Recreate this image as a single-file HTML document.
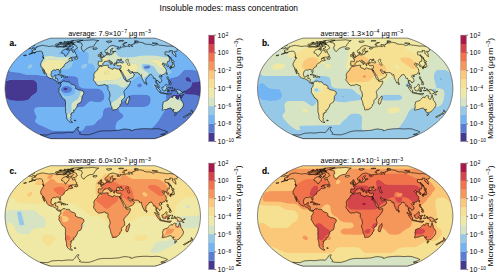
<!DOCTYPE html><html><head><meta charset="utf-8"><title>Insoluble modes: mass concentration</title><style>html,body{margin:0;padding:0;background:#fff;width:500px;height:277px;overflow:hidden}svg{display:block}</style></head><body><svg width="500" height="277" viewBox="0 0 500 277"><defs><path id="land" d="M28.88 54.35L29.94 54.06L31.00 53.76L32.06 53.47L33.41 53.03L34.76 52.60L36.87 51.45L37.52 51.45L38.17 51.45L38.97 51.31L39.77 51.16L40.39 51.26L41.02 51.35L41.64 51.45L42.08 51.88L42.54 52.31L42.62 53.18L42.48 54.35L42.91 54.65L43.35 54.94L43.10 55.83L42.89 56.73L43.30 57.49L43.75 58.24L43.27 59.00L42.80 59.77L42.08 60.99L41.39 62.22L41.02 63.00L40.68 63.77L40.74 65.01L40.79 65.79L40.85 66.57L41.49 66.88L42.14 67.19L42.31 68.13L42.36 68.91L42.42 69.69L43.00 70.94L43.33 71.72L43.68 72.50L44.04 73.27L44.43 74.05L44.75 73.74L44.20 72.50L44.02 71.56L43.87 70.62L43.62 69.69L43.39 68.75L44.05 70.00L44.58 70.94L45.06 72.18L45.72 72.81L46.55 74.05L46.61 74.83L46.67 75.61L47.19 76.24L47.71 76.86L48.45 77.33L49.18 77.80L50.20 78.20L51.23 78.61L52.32 78.42L53.29 79.36L54.33 79.79L54.98 80.04L55.63 80.29L56.36 81.23L56.57 82.16L57.34 82.79L58.40 83.29L59.46 83.72L60.56 83.41L60.90 83.10L60.86 82.79L59.80 82.41L58.70 82.79L57.69 81.54L57.78 80.29L57.89 79.04L57.15 78.42L56.34 78.48L55.53 78.55L55.55 77.70L55.57 76.86L55.90 75.93L56.24 74.99L55.47 75.15L54.70 75.30L54.47 76.24L53.60 76.80L52.91 76.92L52.23 77.05L51.50 76.55L51.23 75.61L50.96 74.68L51.13 73.59L51.33 72.50L51.69 71.25L52.41 70.72L53.14 70.19L54.26 69.88L55.00 70.03L55.75 70.19L56.42 69.56L57.21 69.50L58.01 69.44L58.99 69.69L59.38 70.31L59.35 71.25L59.77 72.50L60.32 72.68L60.64 71.68L60.56 70.84L60.49 70.00L60.54 69.06L61.77 67.82L63.03 66.88L64.08 66.38L64.21 65.32L64.72 64.39L65.84 63.15L66.94 62.84L67.82 62.41L67.91 61.79L68.51 60.99L69.32 60.78L70.12 60.56L70.43 61.11L71.11 60.90L71.79 60.68L72.47 60.44L73.15 60.19L72.38 59.92L71.62 59.64L71.73 58.55L72.23 58.06L71.75 57.94L71.27 57.82L70.57 58.12L69.86 58.42L68.61 59.28L69.59 58.52L70.58 57.76L71.50 57.49L72.43 57.21L73.13 57.21L73.84 57.21L74.54 57.21L75.38 56.82L76.21 56.43L76.87 55.83L76.60 54.65L76.14 54.35L75.69 54.06L75.37 53.18L75.08 52.31L74.89 51.28L73.54 52.31L73.03 52.22L72.52 52.14L72.61 51.51L72.71 50.88L72.22 50.60L71.73 50.32L71.14 50.22L70.56 50.13L69.98 50.03L69.12 51.16L68.94 51.88L68.77 52.60L68.03 53.76L66.81 54.65L66.37 55.54L65.95 56.43L65.40 56.13L64.84 55.83L64.56 55.03L64.31 54.23L63.84 53.85L63.39 53.47L62.80 53.34L62.21 53.20L61.63 53.06L61.56 52.14L61.87 51.51L62.19 50.88L63.42 50.03L64.24 49.62L65.06 49.20L65.64 49.12L66.21 49.03L67.04 48.43L67.87 47.83L68.68 47.83L69.24 47.03L69.81 46.23L70.22 46.76L70.79 46.23L70.20 46.10L69.61 45.97L68.73 46.36L67.84 46.76L67.05 46.76L66.25 46.76L65.46 46.76L64.45 47.03L63.43 47.29L62.74 47.16L62.05 47.03L61.33 46.94L60.61 46.85L59.90 46.76L59.12 46.85L58.33 46.95L57.55 47.04L56.76 47.13L56.26 46.93L55.76 46.73L55.27 46.53L54.79 46.34L54.13 46.22L53.48 46.09L52.84 45.97L52.09 46.06L51.33 46.15L50.58 46.23L49.64 46.36L48.70 46.50L48.13 46.31L47.57 46.13L46.98 46.05L46.40 45.97L45.82 45.89L45.24 45.82L44.64 45.69L44.04 45.56L43.58 45.47L43.12 45.39L42.67 45.30L41.70 45.51L40.72 45.71L39.77 45.97L38.81 46.23L37.84 46.50L36.87 46.76L36.92 47.16L36.97 47.56L35.80 47.83L34.86 48.07L33.92 48.32L34.34 48.62L34.78 48.92L35.40 48.92L36.02 48.92L35.11 49.76L34.24 49.81L33.37 49.87L31.70 50.88L32.11 51.16L32.54 51.45L31.55 52.31L32.25 52.27L32.95 52.23L33.65 52.20L32.41 52.83L31.16 53.47L30.02 53.91ZM77.32 42.03L78.24 41.65L79.14 41.29L80.03 40.94L80.84 40.79L81.63 40.64L82.42 40.49L83.20 40.34L83.83 40.32L84.46 40.30L85.09 40.27L85.72 40.25L86.35 40.22L86.97 40.20L87.59 40.18L88.22 40.15L88.85 40.11L89.48 40.06L90.11 40.02L90.74 39.97L91.37 39.93L91.99 39.88L92.61 39.84L93.23 39.80L93.82 39.90L94.42 40.01L95.02 40.12L95.63 40.23L96.25 40.34L96.89 40.39L97.53 40.44L98.18 40.49L98.83 40.54L98.11 40.87L97.36 41.22L96.60 41.58L96.04 42.49L95.47 43.45L94.96 44.07L94.45 44.69L94.24 45.71L93.55 46.23L92.85 46.76L92.14 46.83L91.43 46.89L90.71 46.96L90.00 47.03L89.07 47.47L88.14 47.92L87.18 48.37L86.40 48.92L85.60 49.48L84.87 50.46L84.13 51.45L83.53 51.31L82.93 51.16L82.48 50.60L82.04 50.03L81.63 48.92L81.26 47.83L81.42 47.03L81.58 46.23L82.73 45.45L82.34 45.07L81.97 44.69L81.83 43.94L81.73 43.21L81.24 43.05L80.75 42.89L80.27 42.73L79.73 42.65L79.20 42.57L78.67 42.49L78.21 42.34L77.76 42.18ZM77.61 47.83L76.72 48.37L75.82 48.92L75.27 49.62L74.71 50.32L74.00 50.03L73.44 49.89L72.88 49.76L72.48 49.34L72.09 48.92L71.35 48.95L70.61 48.98L71.63 48.32L72.63 47.67L73.63 47.03L73.19 46.67L72.76 46.32L72.34 45.97L71.66 45.84L70.97 45.71L70.44 45.52L69.92 45.33L69.40 45.14L68.89 44.94L69.97 44.57L71.04 44.19L71.70 44.16L72.34 44.12L72.99 44.09L73.50 44.39L74.03 44.69L74.60 44.94L75.19 45.20L75.79 45.45L76.40 45.71L76.33 46.50L76.70 46.89L77.08 47.29ZM57.29 45.45L58.33 45.20L59.37 44.94L60.41 44.69L61.14 44.63L61.87 44.57L62.59 44.50L63.32 44.44L63.69 44.82L64.08 45.20L63.34 45.79L62.61 46.39L61.87 46.48L61.13 46.57L60.39 46.65L59.57 46.69L58.74 46.72L57.91 46.76L57.37 46.64L56.84 46.51L56.30 46.39L56.62 45.71ZM69.91 42.73L70.60 42.75L71.29 42.78L71.98 42.80L72.67 42.82L73.37 42.85L74.06 42.87L75.28 42.33L76.49 41.80L77.39 41.58L78.28 41.36L79.08 41.15L79.86 40.94L80.63 40.74L81.39 40.54L82.06 40.34L82.72 40.15L82.14 40.13L81.56 40.10L80.99 40.08L80.42 40.05L79.85 40.02L79.28 40.00L78.71 39.97L78.03 40.04L77.35 40.11L76.66 40.18L75.97 40.25L75.28 40.32L74.58 40.39L73.88 40.46L73.17 40.54L71.48 41.36L71.78 41.69L72.09 42.03L71.00 42.38ZM68.91 43.70L69.64 43.70L70.38 43.70L71.11 43.70L71.85 43.70L72.59 43.70L73.32 43.70L73.39 42.82L72.70 42.80L72.00 42.78L71.31 42.75L70.62 42.73L69.94 42.81L69.26 42.89L68.57 42.97L68.73 43.33ZM55.07 45.05L55.60 45.13L56.14 45.22L56.69 45.30L57.99 44.74L59.29 44.19L58.87 43.99L58.47 43.79L57.79 43.84L57.11 43.89L56.43 43.94L55.74 44.49ZM66.33 49.48L67.11 49.41L67.89 49.34L68.66 49.27L69.43 49.20L68.95 48.65L68.49 48.10L67.70 48.37L66.89 48.65ZM64.32 44.94L64.93 44.98L65.53 45.01L66.13 45.05L67.27 44.04L66.71 44.04L66.16 44.04L65.60 44.04ZM66.61 44.94L67.37 44.94L68.13 44.94L69.41 43.94L68.79 43.94L68.17 43.94L67.55 43.94ZM59.70 43.70L60.41 43.67L61.11 43.65L61.82 43.62L62.52 43.60L63.22 43.57L63.92 43.55L64.97 42.97L64.30 42.93L63.63 42.89L62.96 42.85L62.30 42.81L61.64 42.77L60.98 42.73ZM64.76 43.45L65.40 43.45L66.04 43.45L66.68 43.45L67.32 43.45L67.93 42.90L68.56 42.35L67.90 42.39L67.24 42.42L66.58 42.46L65.91 42.49ZM68.95 42.03L69.68 42.00L70.41 41.97L71.13 41.95L71.86 41.92L72.58 41.89L73.09 41.30L73.58 40.74L73.00 40.74L72.42 40.74L71.84 40.74L71.26 40.74L70.12 41.36ZM57.59 74.80L58.44 74.43L59.28 74.05L60.35 73.99L61.08 74.49L61.82 74.99L62.52 75.40L63.22 75.80L62.33 75.89L61.44 75.99L61.23 75.49L60.34 75.18L59.44 74.87L58.79 74.80L58.13 74.74ZM63.09 76.05L63.87 75.99L64.65 75.93L65.43 76.36L66.21 76.80L65.33 77.05L64.49 77.42L63.74 77.20L62.99 76.99ZM60.91 76.92L61.46 76.99L62.02 77.05L61.83 77.30L61.04 77.17ZM66.85 76.86L67.70 76.92L67.57 77.17L66.82 77.17ZM76.93 56.37L77.31 57.00L77.71 57.64L77.57 58.85L76.95 59.40L76.10 59.15L75.24 58.97L74.38 58.79L75.34 58.21L76.30 57.64L76.61 57.00ZM42.66 56.85L43.27 57.09L43.88 57.33L44.04 58.30L43.35 58.12L43.02 57.73L42.70 57.33ZM60.90 83.10L61.69 82.47L62.28 81.54L63.11 81.23L63.94 80.92L64.17 81.54L65.02 80.79L66.04 81.85L67.12 81.82L68.21 81.79L69.29 81.73L69.78 82.79L70.31 83.22L71.36 84.16L72.16 84.44L72.97 84.72L73.78 85.00L74.58 85.28L75.11 85.91L75.37 86.59L75.64 87.28L75.36 88.40L76.04 88.71L76.72 89.02L77.67 89.49L78.63 89.96L79.58 90.08L80.53 90.21L81.35 90.55L82.16 90.89L82.85 91.30L83.53 91.71L83.82 92.77L83.85 94.01L82.80 95.26L82.03 96.51L81.95 97.76L81.87 99.00L81.73 99.78L81.59 100.56L81.29 101.34L80.99 102.12L79.97 102.75L78.94 103.24L78.19 103.77L77.45 104.30L77.34 105.08L77.24 105.86L76.72 107.11L75.85 108.36L75.28 109.61L74.60 110.11L73.97 110.17L73.35 110.23L73.78 111.16L73.75 112.22L73.03 112.39L72.31 112.55L71.60 112.72L71.73 113.83L71.08 113.90L70.42 113.96L71.18 114.88L71.04 115.65L70.91 116.42L70.23 117.34L71.25 118.25L70.92 119.01L70.61 119.77L70.81 120.85L71.43 121.56L72.63 122.45L71.86 122.51L71.09 122.57L69.89 121.92L68.68 121.26L67.93 120.37L67.20 119.47L66.83 118.56L66.49 117.65L66.51 116.73L66.56 115.81L66.37 114.88L66.19 113.96L65.82 112.72L65.47 111.48L65.54 110.23L65.64 108.98L65.50 107.74L65.39 106.49L65.45 105.24L65.53 103.99L65.46 102.95L65.40 101.91L65.34 100.87L64.79 99.63L63.64 98.85L62.49 98.07L61.69 96.82L61.16 95.88L60.64 94.95L60.19 94.17L59.75 93.39L58.77 92.14L58.94 91.36L59.11 90.58L59.36 89.83L58.81 89.02L59.35 87.78L60.01 87.28L60.37 86.59L60.74 85.91L60.82 85.13L60.90 84.35L60.54 83.72ZM74.16 120.25L74.93 120.25L75.70 120.25L75.94 120.67L75.21 120.73L74.49 120.79ZM93.73 75.30L94.01 74.37L94.30 73.43L95.13 72.18L95.95 71.12L96.76 70.56L97.55 70.00L97.69 68.75L98.40 67.63L99.28 67.19L99.77 66.07L100.76 66.29L101.75 66.51L102.52 66.07L103.28 65.64L104.30 65.54L105.31 65.45L106.07 65.35L106.83 65.24L107.59 65.14L108.36 65.32L108.18 66.10L108.01 66.88L108.44 67.63L109.49 67.94L110.14 68.19L110.80 68.44L111.73 68.97L112.67 69.50L113.13 68.44L114.13 67.88L114.93 68.22L115.73 68.57L116.78 68.85L117.85 69.13L118.62 69.03L119.39 68.94L119.72 69.75L120.04 70.50L120.36 71.25L120.97 72.34L121.57 73.43L122.07 74.37L122.58 75.30L122.98 76.24L123.37 77.17L123.68 77.95L123.99 78.73L125.12 79.98L126.12 80.60L126.81 81.85L127.48 81.63L128.15 81.41L128.90 81.29L129.65 81.16L130.40 81.04L130.33 81.91L130.22 82.66L130.11 83.41L129.59 84.35L129.07 85.28L128.41 86.22L127.74 87.15L127.07 87.93L126.39 88.71L125.30 89.52L124.47 90.58L123.92 91.52L124.04 92.45L124.15 93.39L124.40 94.17L124.65 94.95L124.62 95.88L124.58 96.82L124.54 97.76L123.57 98.54L122.59 99.32L122.01 100.09L121.44 100.87L121.53 101.65L121.62 102.43L121.57 103.37L120.87 103.93L120.18 104.49L120.06 105.33L119.95 106.18L118.93 107.11L118.07 108.05L117.22 108.98L116.55 109.30L115.88 109.61L114.97 109.67L114.07 109.73L113.02 110.11L112.27 109.73L112.19 109.05L112.09 108.36L111.88 107.42L111.66 106.49L110.77 105.24L110.62 103.99L110.47 102.75L110.14 101.81L109.81 100.87L109.45 100.09L109.09 99.32L109.11 98.07L109.58 97.13L110.05 96.20L109.98 95.10L109.91 94.01L109.68 93.08L109.44 92.14L109.28 91.52L108.61 90.74L107.93 89.96L107.88 89.18L107.82 88.40L107.93 87.53L108.04 86.65L107.93 85.91L107.38 85.59L106.71 85.66L106.03 85.72L105.21 84.47L104.54 84.47L103.86 84.47L103.05 84.81L102.23 85.16L101.15 85.28L100.06 85.22L99.39 85.44L98.71 85.66L97.63 84.97L96.55 84.10L95.74 83.41L95.48 82.47L94.68 81.54L93.88 80.73L93.65 79.98L93.42 79.23L93.92 78.42L94.21 77.17L94.08 76.24ZM129.37 95.88L129.61 96.98L129.85 98.07L129.41 99.00L129.10 99.94L128.80 100.87L128.50 101.87L128.19 102.87L127.88 103.87L127.25 104.09L126.63 104.30L125.93 103.06L125.81 101.81L126.47 100.56L126.41 99.78L126.35 99.00L127.47 98.25L128.05 97.54L128.62 96.82ZM98.34 61.61L98.85 61.18L99.83 61.27L100.81 61.36L101.42 61.36L102.04 61.36L102.12 60.56L102.19 59.77L101.72 59.03L101.17 58.82L100.62 58.61L101.35 58.06L102.06 58.12L102.07 57.58L102.87 57.58L103.48 57.21L103.94 56.67L104.64 56.43L104.99 55.54L105.49 55.39L105.99 55.24L106.71 55.00L106.70 54.06L106.44 53.30L107.21 52.83L107.47 53.47L107.61 54.06L107.32 54.53L107.80 54.94L108.70 54.71L109.41 55.00L110.29 54.65L111.18 54.47L111.66 54.71L112.26 54.06L112.15 53.30L112.74 52.77L113.45 53.06L113.48 52.43L113.04 51.91L113.57 51.79L114.09 51.68L114.96 51.68L115.78 51.45L115.07 51.16L114.54 51.19L114.01 51.22L113.27 51.34L112.53 51.45L112.01 50.88L111.83 49.76L112.46 49.20L113.09 48.65L113.23 48.32L112.60 48.24L111.97 48.16L111.44 48.65L110.73 49.48L110.20 50.15L110.23 51.11L111.02 51.51L110.65 52.02L110.10 52.89L109.95 53.65L109.10 54.12L108.55 54.00L108.37 53.47L107.85 52.60L107.59 52.02L107.36 51.85L106.84 52.22L106.31 52.60L105.42 52.54L104.95 51.74L104.91 50.60L105.53 50.03L106.24 49.67L106.95 49.31L107.42 48.76L107.89 48.21L108.40 47.29L109.13 46.76L109.67 46.42L110.21 46.08L110.95 45.89L111.69 45.71L112.25 45.58L112.80 45.45L113.57 45.45L114.22 45.71L114.87 45.97L115.76 46.34L116.37 46.42L116.99 46.50L117.73 46.76L118.48 47.03L119.24 47.29L119.21 47.83L118.48 47.87L117.75 47.90L117.01 47.94L117.00 48.65L117.60 48.92L118.20 49.20L118.53 48.92L119.36 48.92L120.03 48.46L120.69 47.99L120.47 47.37L120.24 46.76L121.14 47.03L121.94 47.03L122.74 47.03L123.48 46.89L124.21 46.76L124.97 46.68L125.72 46.60L126.32 46.23L127.00 46.29L127.69 46.34L128.37 46.39L129.17 46.57L129.97 46.76L129.48 46.10L128.99 45.45L128.25 45.20L128.49 44.82L128.71 44.44L129.40 44.49L130.09 44.54L130.72 45.45L131.34 46.10L131.95 46.76L132.58 46.50L131.77 45.58L130.96 44.69L131.47 44.74L131.98 44.79L132.51 44.74L133.04 44.69L132.89 44.04L133.47 43.93L134.05 43.81L134.62 43.70L134.48 43.35L134.96 43.23L135.43 43.10L135.90 42.97L136.45 42.92L136.99 42.87L137.54 42.82L138.06 42.66L138.57 42.49L138.95 42.33L139.33 42.17L140.16 42.35L141.03 42.48L141.91 42.60L142.79 42.73L143.95 43.21L144.30 43.94L145.13 44.02L145.96 44.09L146.73 44.27L147.50 44.44L148.02 44.36L148.54 44.27L149.06 44.19L150.06 44.39L151.07 44.59L152.20 45.20L153.40 45.56L153.89 45.44L154.39 45.32L154.88 45.20L155.31 44.94L155.73 44.69L156.54 44.73L157.34 44.76L158.15 44.79L159.19 45.00L160.24 45.20L160.98 45.27L161.71 45.34L162.45 45.40L163.22 45.49L163.98 45.57L164.75 45.66L165.63 45.87L166.52 46.08L167.38 46.13L168.24 46.18L168.63 46.05L169.02 45.92L169.75 45.97L170.48 46.02L171.21 46.08L172.04 46.23L172.87 46.39L173.91 46.55L175.48 47.59L177.02 48.65L176.78 48.92L177.67 50.03L177.30 50.23L176.92 50.43L176.71 50.94L176.48 51.45L175.55 51.39L174.61 51.34L174.21 51.45L173.80 51.56L174.55 52.60L175.50 53.18L175.53 53.71L175.84 54.65L175.81 55.54L176.08 56.73L174.65 55.54L173.70 54.65L172.72 53.76L172.15 52.72L172.69 52.60L172.55 51.94L172.38 51.28L172.30 50.48L171.73 50.54L171.15 50.60L170.41 50.51L169.67 50.43L169.95 51.14L170.20 51.85L169.47 51.88L168.74 51.91L167.99 51.89L167.24 51.87L166.49 51.85L165.76 51.88L165.02 51.91L164.94 52.72L165.06 53.68L165.14 54.65L166.31 54.94L167.49 55.24L168.01 55.98L168.50 56.73L169.05 57.49L169.56 58.24L169.45 58.85L169.31 59.46L169.31 60.38L169.29 61.30L168.49 61.39L167.68 61.48L167.20 61.92L167.33 62.84L166.98 63.77L167.75 64.55L168.50 65.32L168.87 66.38L168.38 66.60L167.88 66.82L167.52 66.82L167.19 65.92L166.83 65.01L165.93 64.70L165.44 63.71L164.66 63.90L163.87 64.08L163.66 63.15L163.00 62.84L162.60 63.52L162.05 63.96L162.05 64.39L162.93 65.01L163.39 65.26L163.96 64.83L164.89 65.20L164.19 65.95L163.83 66.57L164.93 67.82L165.90 68.63L166.07 69.13L166.20 70.00L166.58 70.94L166.13 71.56L165.83 72.50L165.03 73.68L164.33 74.18L163.69 74.34L163.06 74.49L162.44 74.74L161.81 74.99L161.51 75.74L161.17 74.99L160.21 74.93L159.54 75.74L159.29 76.55L159.80 77.48L161.05 78.73L161.37 79.51L161.67 80.29L161.60 81.23L160.58 81.91L159.58 83.04L159.40 81.98L158.39 81.54L158.05 80.73L157.10 80.42L156.63 80.04L156.49 80.79L156.34 81.54L156.57 82.47L157.05 83.29L157.48 84.16L158.32 84.60L158.85 85.59L158.94 86.78L159.33 87.53L158.96 87.59L158.35 87.09L157.74 86.59L157.17 85.59L157.12 84.53L156.08 83.29L155.90 82.16L156.01 80.92L155.75 80.14L155.48 79.36L155.07 78.11L154.05 78.55L153.37 78.23L153.33 77.55L153.30 76.86L152.65 76.05L151.91 75.30L151.51 74.37L150.87 74.68L150.09 74.80L149.05 74.99L148.89 75.80L148.16 76.36L147.54 77.20L146.91 78.05L145.92 78.86L145.96 79.57L145.99 80.29L145.84 81.23L145.57 81.98L145.07 82.85L144.72 83.35L144.15 82.85L143.93 82.13L143.69 81.41L142.97 80.29L142.61 79.42L142.24 78.55L141.95 77.55L141.66 76.55L141.53 75.30L141.33 74.49L140.83 74.96L140.32 75.43L139.42 74.49L139.92 74.18L139.07 73.74L138.52 73.56L137.87 72.56L136.83 72.68L136.04 72.68L135.25 72.68L134.44 72.56L133.64 72.43L132.99 72.31L132.47 71.50L131.46 71.81L130.62 71.40L129.78 71.00L129.33 70.31L128.88 69.63L128.05 69.69L127.73 70.00L128.12 70.62L128.80 71.56L129.22 72.06L129.61 72.81L130.03 73.31L130.56 73.31L131.35 73.31L132.07 72.56L132.43 72.00L132.58 72.87L133.23 73.56L134.08 74.18L134.53 74.43L133.94 75.61L133.65 76.55L132.74 77.24L132.40 77.67L131.67 77.95L130.94 78.23L130.17 78.73L129.39 79.23L128.34 79.76L127.29 80.29L126.22 80.48L126.00 79.76L125.78 79.04L125.68 78.11L125.23 77.33L124.78 76.55L124.15 75.77L123.52 74.99L123.18 73.74L122.61 73.12L122.01 72.09L121.40 71.06L120.91 70.87L120.99 70.00L120.72 71.06L119.83 69.81L119.54 68.94L120.52 68.88L120.84 67.94L121.13 66.82L121.12 65.95L120.82 65.57L120.30 65.45L119.33 65.88L118.29 65.64L117.52 65.57L116.73 65.32L116.14 64.52L116.07 63.77L115.87 63.34L116.44 63.28L117.01 63.21L117.20 62.78L117.77 62.78L118.35 62.78L118.85 62.50L119.36 62.22L120.10 62.22L121.11 62.66L121.85 62.90L122.39 62.87L122.93 62.84L123.38 62.53L123.35 61.85L122.42 61.36L121.59 60.81L121.05 60.56L121.26 59.58L121.65 59.09L120.79 59.09L120.23 59.34L119.67 59.58L120.02 60.19L120.50 60.19L120.10 60.68L119.12 60.68L118.55 60.13L118.98 59.77L118.06 59.46L117.58 59.46L117.20 60.19L116.80 60.81L116.56 61.61L116.54 62.22L117.14 62.66L116.57 62.87L115.99 63.09L115.73 62.97L114.74 63.03L114.27 63.28L114.74 64.08L114.18 64.52L114.65 64.70L114.47 65.64L114.22 65.70L113.80 65.45L113.50 64.83L113.40 64.21L112.90 63.71L112.49 62.90L112.39 62.35L111.91 61.92L111.39 61.61L110.63 61.30L110.20 60.81L109.59 60.44L109.37 60.07L108.79 60.13L108.77 60.62L109.45 61.30L109.94 62.04L110.72 62.53L111.37 62.93L112.02 63.34L111.30 63.77L111.14 64.39L110.70 64.58L110.81 63.90L110.58 63.40L109.90 62.97L109.03 62.53L108.30 61.92L107.94 61.42L107.42 60.93L106.97 60.75L106.45 61.11L105.97 61.55L104.98 61.30L104.30 61.55L104.31 62.29L103.77 62.72L103.17 62.84L102.78 63.59L102.62 63.90L102.88 64.27L102.42 64.95L101.71 65.51L101.12 65.51L100.54 65.51L100.02 65.95L99.57 65.45L98.97 65.20L98.26 65.32L98.34 64.52L97.99 64.21L98.39 63.03L98.43 61.98L98.20 61.61ZM31.64 46.55L32.00 46.74L32.37 46.94L32.75 47.13L33.00 47.37L33.26 47.61L33.55 47.99L31.46 48.92L31.10 48.73L30.75 48.54L30.21 48.48L29.67 48.43L28.53 48.65L30.07 47.59ZM122.89 45.20L123.54 45.35L124.19 45.51L124.85 45.66L124.24 45.05L123.63 44.44L123.96 44.03L124.26 43.61L124.54 43.21L125.06 43.07L125.58 42.94L126.09 42.81L126.59 42.67L127.09 42.54L126.63 42.52L126.17 42.49L125.62 42.59L125.07 42.68L124.51 42.78L123.95 42.87L123.61 43.26L123.24 43.65L122.85 44.04L122.76 44.94ZM106.58 41.80L107.20 42.11L107.84 42.41L108.49 42.73L109.17 42.57L109.84 42.41L110.51 42.26L111.01 41.95L111.49 41.65L111.96 41.36L111.34 41.22L110.74 41.08L110.13 40.94L109.60 41.01L109.05 41.08L108.51 41.15L107.84 41.19L107.17 41.23L106.50 41.28ZM135.70 41.58L136.48 41.65L137.27 41.73L138.05 41.80L138.28 41.58L138.49 41.36L137.63 41.15L136.78 40.94L135.95 40.74L135.48 40.80L135.02 40.87L134.55 40.94ZM152.11 43.21L153.21 43.45L154.31 43.70L155.42 43.94L155.98 43.82L156.52 43.70L157.06 43.57L157.60 43.45L156.72 43.29L155.85 43.13L154.98 42.97L154.21 42.94L153.44 42.90L152.67 42.87L152.39 43.04ZM118.63 41.15L119.24 41.13L119.86 41.11L120.47 41.09L121.08 41.08L121.69 41.06L122.30 41.04L122.91 41.02L123.30 40.88L123.67 40.74L122.96 40.67L122.25 40.62L121.54 40.56L120.84 40.50L120.32 40.58L119.80 40.65L119.28 40.74L118.75 40.82ZM92.93 48.37L93.84 47.88L94.64 47.94L95.44 47.99L96.07 47.91L96.69 47.83L97.03 48.37L97.17 48.65L96.54 49.03L95.78 49.28L95.02 49.53L94.20 49.37L93.38 49.31L93.65 48.92L92.87 48.70ZM100.09 57.33L100.73 57.15L101.37 56.97L102.07 56.91L102.78 56.85L103.43 56.61L103.56 55.72L102.91 55.30L102.68 54.82L102.10 54.23L101.88 53.76L101.43 53.59L101.89 52.77L101.23 52.77L101.46 52.25L100.58 52.25L100.25 52.89L100.22 53.59L100.52 53.94L100.60 54.47L101.28 54.41L101.31 54.82L101.40 55.36L100.66 55.36L100.78 56.01L100.35 56.31L101.28 56.49L100.67 56.73ZM99.99 56.01L99.98 55.24L100.23 54.65L99.83 54.23L99.15 54.23L98.86 54.65L98.21 54.82L98.27 55.36L98.00 56.07L98.35 56.43L99.05 56.25ZM170.04 67.19L170.38 66.73L170.71 66.26L171.33 66.23L171.95 66.20L172.14 65.20L172.81 64.83L172.90 63.59L172.39 62.72L173.09 62.66L173.95 63.77L173.94 64.58L174.39 65.64L174.70 66.38L174.35 66.63L173.93 66.82L173.01 66.82L173.15 67.50L172.20 67.32L171.72 66.82L170.78 67.01ZM169.58 67.44L170.12 67.26L170.81 67.82L170.92 68.88L170.42 68.94L169.80 68.00ZM171.07 67.69L171.40 67.26L172.04 67.32L171.65 67.01L171.09 67.13ZM172.27 62.53L172.76 62.35L173.24 62.29L173.72 62.22L174.00 61.82L174.28 61.42L173.50 60.99L172.58 60.53L171.66 60.07L172.03 60.99L171.82 61.42L171.89 61.92ZM171.45 59.77L171.96 59.46L171.30 58.70L170.62 57.94L171.33 57.94L169.67 56.73L169.15 56.04L168.60 55.36L167.84 54.77L168.33 55.45L168.81 56.13L169.59 57.33L170.59 58.55ZM166.48 74.05L166.59 73.40L166.68 72.74L167.22 72.81L167.16 73.74L166.97 74.68ZM160.76 76.42L161.69 75.86L162.01 76.18L161.61 77.05L160.89 76.86ZM145.97 83.41L146.12 82.29L146.71 83.10L147.07 83.85L146.83 84.53L146.23 84.66L145.99 84.03ZM166.93 76.86L167.52 76.86L168.10 76.86L168.42 77.80L168.14 78.73L168.69 79.54L169.59 80.29L169.34 80.48L168.18 79.79L167.71 79.48L167.18 78.42L167.06 77.64ZM168.85 84.03L169.87 83.10L170.91 82.60L171.10 83.32L171.29 84.03L170.79 84.84L169.96 84.53ZM168.92 81.54L169.39 80.92L170.24 81.23L170.60 82.16L169.81 82.47L169.27 82.47ZM154.43 84.91L155.03 85.03L155.63 85.16L156.42 86.09L157.21 87.03L158.09 88.03L158.96 89.02L159.62 89.65L160.29 90.27L160.20 91.14L160.11 92.02L159.41 92.08L158.84 91.49L158.26 90.89L157.58 89.96L157.06 89.18L156.52 88.40L156.24 87.28L155.12 86.22L154.78 85.56ZM159.76 92.64L160.22 92.14L161.29 92.33L161.96 92.52L162.62 92.70L163.71 92.70L164.76 93.27L164.72 93.83L163.78 93.67L162.84 93.51L162.04 93.39L161.24 93.27L160.44 93.02ZM161.94 87.46L162.26 87.15L163.02 87.46L164.08 86.47L164.74 85.81L165.39 85.16L166.14 84.03L166.77 84.60L167.39 85.16L166.77 85.72L166.64 86.53L167.37 87.78L166.57 88.40L166.01 89.34L165.97 90.58L164.88 90.89L164.15 90.74L163.42 90.58L162.57 90.21L162.48 89.34L161.95 88.40ZM167.55 91.83L168.09 91.83L168.21 91.05L168.32 90.27L168.66 91.33L169.47 91.21L168.97 90.27L168.45 89.34L169.55 88.90L170.36 88.09L170.73 87.46L170.36 87.78L169.41 87.71L168.46 87.65L167.92 88.09L167.75 89.02L167.24 90.15L167.40 90.99ZM173.88 89.15L174.71 88.65L175.37 89.55L176.01 90.46L176.85 89.93L177.68 89.40L178.48 89.71L179.29 90.02L180.35 90.61L181.40 91.21L181.87 92.45L182.85 92.33L182.36 93.08L183.36 94.01L184.07 94.95L183.28 94.82L182.49 94.64L181.77 93.70L180.72 93.27L180.28 94.01L179.65 94.08L179.02 94.14L178.27 93.51L177.45 93.58L177.78 92.77L177.32 91.52L176.25 91.21L175.58 91.05L174.91 90.89L174.40 90.15L175.22 89.77L174.42 89.52ZM165.01 93.51L166.09 93.55L167.17 93.58L168.25 93.55L169.34 93.51L170.42 93.51L171.50 93.51L170.33 94.64L169.50 94.82L168.70 94.66L167.91 94.49L167.11 94.33L166.31 94.17L165.51 94.01ZM171.98 87.28L172.52 87.46L172.70 88.40L172.26 88.90L171.99 88.09ZM171.14 90.27L172.22 90.40L172.98 90.49L173.73 90.58L173.10 90.68L172.48 90.77L171.80 90.77L171.12 90.77ZM183.27 91.83L184.24 91.43L185.21 91.02L184.89 91.83L184.20 92.05L183.51 92.27ZM163.09 102.12L163.48 102.00L164.21 101.62L164.94 101.25L165.59 101.06L166.23 100.87L167.35 100.56L168.21 99.63L168.98 98.88L169.65 98.07L170.59 97.13L171.39 97.13L172.38 97.76L172.82 96.51L173.69 96.01L174.28 95.57L174.80 95.76L175.47 95.82L176.13 95.88L176.54 96.07L176.01 96.82L175.60 97.76L176.31 98.38L176.84 98.82L177.38 99.25L178.18 99.25L178.51 98.50L178.83 97.76L178.98 96.98L179.12 96.20L179.74 95.07L180.14 96.20L180.13 97.38L180.87 97.76L180.77 98.88L180.85 99.56L180.92 100.25L181.49 100.72L182.06 101.19L182.68 102.43L183.11 103.37L183.51 104.30L183.34 105.24L183.14 106.18L182.65 107.11L182.12 108.05L181.36 108.76L180.58 109.48L179.67 110.64L178.73 111.79L178.10 111.91L177.48 112.04L176.34 112.72L175.83 112.28L175.00 112.59L174.38 112.35L173.76 112.10L173.57 111.48L173.23 110.60L173.80 109.92L173.85 108.98L173.21 110.11L172.33 110.11L172.11 109.92L171.95 108.86L171.39 108.45L170.82 108.05L169.93 108.20L169.04 108.36L168.18 108.58L167.32 108.80L166.54 109.48L165.50 109.51L164.46 109.54L163.75 109.92L163.04 110.29L162.42 110.04L161.80 109.79L162.34 109.30L162.73 108.05L162.75 106.80L162.65 105.86L162.52 104.93L162.96 103.68L163.03 102.90ZM174.91 113.77L175.77 113.83L176.63 113.90L176.14 114.55L175.63 115.19L174.65 115.56L174.63 114.70ZM191.38 109.86L191.87 110.42L191.96 111.60L192.52 111.76L193.08 111.91L192.14 112.84L191.51 113.03L189.90 114.27L189.54 114.14L190.34 113.34L190.27 112.72L191.19 111.79L191.27 111.01L191.32 110.23ZM188.96 113.65L189.21 114.39L187.70 115.50L186.37 116.12L185.38 116.97L184.21 117.40L183.75 117.22L183.30 117.03L185.15 115.81L186.05 115.44L186.95 115.07L188.16 114.27ZM40.00 134.77L40.75 134.79L41.50 134.82L42.24 134.84L42.99 134.86L43.73 134.88L44.48 134.91L45.22 134.93L45.96 134.95L46.70 134.97L47.44 135.00L47.86 134.86L48.28 134.72L48.72 134.59L49.16 134.45L49.61 134.31L49.98 134.12L50.37 133.93L50.77 133.74L51.18 133.54L51.61 133.35L52.26 133.30L52.92 133.25L53.59 133.20L54.25 133.15L54.92 133.10L55.59 133.05L56.26 133.01L56.93 132.96L57.61 132.91L58.29 132.86L59.09 132.91L59.89 132.96L60.69 133.01L61.48 133.05L62.28 133.10L62.90 133.01L63.53 132.91L64.16 132.81L64.80 132.71L65.45 132.61L66.14 132.56L66.84 132.51L67.54 132.46L68.25 132.41L68.95 132.36L69.75 132.41L70.54 132.46L71.33 132.51L72.12 132.56L72.91 132.61L73.21 132.19L73.53 131.77L73.86 131.35L74.28 131.00L74.70 130.65L75.14 130.30L75.43 129.77L75.73 129.24L76.04 128.70L76.38 128.15L76.79 127.74L77.22 127.32L78.03 127.27L78.85 127.21L78.73 127.88L78.30 128.29L77.88 128.70L78.02 129.77L78.20 130.83L79.55 131.86L79.93 132.48L80.32 133.10L79.83 133.47L79.37 133.83L80.15 134.07L80.92 134.31L81.68 134.54L82.42 134.59L83.15 134.63L83.88 134.68L84.61 134.72L85.34 134.77L86.04 134.77L86.73 134.77L87.43 134.77L88.13 134.77L88.83 134.77L89.33 134.62L89.85 134.46L90.37 134.31L90.90 134.15L91.43 133.99L91.97 133.83L92.52 133.67L93.08 133.51L93.64 133.35L94.19 133.10L94.74 132.86L95.31 132.61L96.01 132.36L96.72 132.11L97.45 131.86L98.18 131.60L98.84 131.47L99.50 131.35L100.17 131.22L100.84 131.09L101.48 131.00L102.13 130.91L102.78 130.83L103.56 130.83L104.34 130.83L105.12 130.83L105.90 130.83L106.68 130.83L107.46 130.83L108.24 130.83L109.02 130.83L109.80 130.83L110.58 130.83L111.37 130.78L112.16 130.72L112.95 130.67L113.75 130.62L114.55 130.57L115.35 130.51L116.15 130.46L116.95 130.41L117.76 130.36L118.56 130.30L119.43 130.09L120.30 129.88L121.18 129.67L122.07 129.45L122.96 129.24L123.67 129.15L124.38 129.06L125.10 128.97L125.73 129.06L126.37 129.15L127.00 129.24L127.75 129.35L128.50 129.45L129.24 129.56L129.98 129.67L130.72 129.77L130.87 130.83L131.54 130.70L132.21 130.57L133.10 130.22L133.99 129.86L134.89 129.51L135.77 129.40L136.65 129.29L137.53 129.19L138.42 129.08L139.31 128.97L140.16 128.92L141.01 128.86L141.87 128.81L142.73 128.75L143.58 128.70L144.40 128.70L145.22 128.70L146.03 128.70L146.85 128.70L147.67 128.70L148.43 128.75L149.20 128.81L149.96 128.86L150.72 128.92L151.48 128.97L152.35 128.92L153.22 128.86L154.09 128.81L154.96 128.75L155.83 128.70L156.59 128.75L157.34 128.81L158.10 128.86L158.85 128.92L159.60 128.97L160.16 129.19L160.72 129.40L161.26 129.61L161.80 129.83L162.32 130.04L162.91 130.20L163.49 130.36L164.07 130.51L164.64 130.67L165.20 130.83L165.60 131.02L165.99 131.22L166.38 131.41L166.75 131.60L167.13 131.73L167.49 131.86L166.24 132.61L164.91 133.35L163.54 133.75L162.16 134.15L160.79 134.54L161.22 134.62L161.64 134.69L162.06 134.77L162.76 134.77L163.45 134.77L164.15 134.77L164.85 134.77L165.55 134.77L163.49 135.65L161.49 136.46L159.60 137.18L157.83 137.79L156.21 138.31L154.78 138.70L154.21 138.70L153.63 138.70L153.05 138.70L152.47 138.70L151.89 138.70L151.32 138.70L150.74 138.70L150.16 138.70L149.58 138.70L149.01 138.70L148.43 138.70L147.85 138.70L147.27 138.70L146.69 138.70L146.12 138.70L145.54 138.70L144.96 138.70L144.38 138.70L143.80 138.70L143.23 138.70L142.65 138.70L142.07 138.70L141.49 138.70L140.92 138.70L140.34 138.70L139.76 138.70L139.18 138.70L138.60 138.70L138.03 138.70L137.45 138.70L136.87 138.70L136.29 138.70L135.71 138.70L135.14 138.70L134.56 138.70L133.98 138.70L133.40 138.70L132.82 138.70L132.25 138.70L131.67 138.70L131.09 138.70L130.51 138.70L129.94 138.70L129.36 138.70L128.78 138.70L128.20 138.70L127.62 138.70L127.05 138.70L126.47 138.70L125.89 138.70L125.31 138.70L124.73 138.70L124.16 138.70L123.58 138.70L123.00 138.70L122.42 138.70L121.85 138.70L121.27 138.70L120.69 138.70L120.11 138.70L119.53 138.70L118.96 138.70L118.38 138.70L117.80 138.70L117.22 138.70L116.64 138.70L116.07 138.70L115.49 138.70L114.91 138.70L114.33 138.70L113.75 138.70L113.18 138.70L112.60 138.70L112.02 138.70L111.44 138.70L110.87 138.70L110.29 138.70L109.71 138.70L109.13 138.70L108.55 138.70L107.98 138.70L107.40 138.70L106.82 138.70L106.24 138.70L105.66 138.70L105.09 138.70L104.51 138.70L103.93 138.70L103.35 138.70L102.78 138.70L102.20 138.70L101.62 138.70L101.04 138.70L100.46 138.70L99.89 138.70L99.31 138.70L98.73 138.70L98.15 138.70L97.57 138.70L97.00 138.70L96.42 138.70L95.84 138.70L95.26 138.70L94.68 138.70L94.11 138.70L93.53 138.70L92.95 138.70L92.37 138.70L91.80 138.70L91.22 138.70L90.64 138.70L90.06 138.70L89.48 138.70L88.91 138.70L88.33 138.70L87.75 138.70L87.17 138.70L86.59 138.70L86.02 138.70L85.44 138.70L84.86 138.70L84.28 138.70L83.70 138.70L83.13 138.70L82.55 138.70L81.97 138.70L81.39 138.70L80.82 138.70L80.24 138.70L79.66 138.70L79.08 138.70L78.50 138.70L77.93 138.70L77.35 138.70L76.77 138.70L76.19 138.70L75.61 138.70L75.04 138.70L74.46 138.70L73.88 138.70L73.30 138.70L72.73 138.70L72.15 138.70L71.57 138.70L70.99 138.70L70.41 138.70L69.84 138.70L69.26 138.70L68.68 138.70L68.10 138.70L67.52 138.70L66.95 138.70L66.37 138.70L65.79 138.70L65.21 138.70L64.63 138.70L64.06 138.70L63.48 138.70L62.90 138.70L62.32 138.70L61.75 138.70L61.17 138.70L60.59 138.70L60.01 138.70L59.43 138.70L58.86 138.70L58.28 138.70L57.70 138.70L57.12 138.70L56.54 138.70L55.97 138.70L55.39 138.70L54.81 138.70L54.23 138.70L53.66 138.70L53.08 138.70L52.50 138.70L51.92 138.70L51.34 138.70L50.77 138.70L49.34 138.31L47.72 137.79L45.95 137.18L44.06 136.46L42.06 135.65ZM63.21 46.60L63.94 46.68L64.66 46.76L65.43 46.08L64.98 46.02L64.54 45.97ZM58.85 42.97L59.68 42.89L60.51 42.81L61.33 42.73L61.64 42.26L60.87 42.31L60.09 42.35ZM72.33 44.44L72.93 44.47L73.54 44.51L74.14 44.54L74.15 44.04L73.59 44.04L73.03 44.04ZM67.35 43.60L67.90 43.60L68.45 43.60L68.85 43.21L68.31 43.21L67.77 43.21ZM66.51 42.03L67.17 42.06L67.83 42.09L68.49 42.12L69.16 41.58L68.63 41.55L68.09 41.52L67.56 41.49ZM63.72 42.03L64.30 42.03L64.88 42.03L65.46 42.03L65.73 41.58L64.95 41.65L64.17 41.71ZM67.55 50.20L68.50 50.03L68.25 49.76L67.55 49.87ZM64.93 45.97L65.60 46.10L66.28 46.23L67.31 45.45L66.84 45.33L66.38 45.20ZM134.42 42.26L135.17 42.31L135.93 42.35L135.90 42.03L135.15 41.98L134.41 41.94ZM33.39 45.45L33.99 45.56L34.97 45.20L34.39 45.20L33.82 45.20ZM24.14 55.83L25.37 55.54L26.59 55.24L25.98 54.94L24.76 55.24L23.52 55.54ZM34.11 53.01L35.12 52.89L35.47 52.43L34.88 52.48Z"/><path id="ol" d="M154.78 38.10L156.60 38.61L158.69 39.30L161.01 40.15L163.49 41.15L166.06 42.26L168.56 43.45L170.86 44.69L173.00 45.97L175.04 47.29L177.02 48.65L178.94 50.03L180.82 51.45L182.63 52.89L184.38 54.35L186.04 55.83L187.59 57.33L189.02 58.85L190.36 60.38L191.64 61.92L192.84 63.46L193.92 65.01L194.90 66.57L195.79 68.13L196.59 69.69L197.28 71.25L197.86 72.81L198.34 74.37L198.76 75.93L199.16 77.48L199.52 79.04L199.82 80.60L200.05 82.16L200.23 83.72L200.36 85.28L200.45 86.84L200.50 88.40L200.45 89.96L200.36 91.52L200.23 93.08L200.05 94.64L199.82 96.20L199.52 97.76L199.16 99.32L198.76 100.87L198.34 102.43L197.86 103.99L197.28 105.55L196.59 107.11L195.79 108.67L194.90 110.23L193.92 111.79L192.84 113.34L191.64 114.88L190.36 116.42L189.02 117.95L187.59 119.47L186.04 120.97L184.38 122.45L182.63 123.91L180.82 125.35L178.94 126.77L177.02 128.15L175.04 129.51L173.00 130.83L170.86 132.11L168.56 133.35L166.06 134.54L163.49 135.65L161.01 136.65L158.69 137.50L156.60 138.19L154.78 138.70L153.34 138.70L151.89 138.70L150.45 138.70L149.01 138.70L147.56 138.70L146.12 138.70L144.67 138.70L143.23 138.70L141.78 138.70L140.34 138.70L138.89 138.70L137.45 138.70L136.00 138.70L134.56 138.70L133.11 138.70L131.67 138.70L130.22 138.70L128.78 138.70L127.33 138.70L125.89 138.70L124.45 138.70L123.00 138.70L121.56 138.70L120.11 138.70L118.67 138.70L117.22 138.70L115.78 138.70L114.33 138.70L112.89 138.70L111.44 138.70L110.00 138.70L108.55 138.70L107.11 138.70L105.66 138.70L104.22 138.70L102.78 138.70L101.33 138.70L99.89 138.70L98.44 138.70L97.00 138.70L95.55 138.70L94.11 138.70L92.66 138.70L91.22 138.70L89.77 138.70L88.33 138.70L86.88 138.70L85.44 138.70L83.99 138.70L82.55 138.70L81.10 138.70L79.66 138.70L78.22 138.70L76.77 138.70L75.33 138.70L73.88 138.70L72.44 138.70L70.99 138.70L69.55 138.70L68.10 138.70L66.66 138.70L65.21 138.70L63.77 138.70L62.32 138.70L60.88 138.70L59.43 138.70L57.99 138.70L56.54 138.70L55.10 138.70L53.66 138.70L52.21 138.70L50.77 138.70L48.95 138.19L46.86 137.50L44.54 136.65L42.06 135.65L39.49 134.54L36.99 133.35L34.69 132.11L32.55 130.83L30.51 129.51L28.53 128.15L26.61 126.77L24.73 125.35L22.92 123.91L21.17 122.45L19.51 120.97L17.96 119.47L16.53 117.95L15.19 116.42L13.91 114.88L12.71 113.34L11.63 111.79L10.65 110.23L9.76 108.67L8.96 107.11L8.27 105.55L7.69 103.99L7.21 102.43L6.79 100.87L6.39 99.32L6.03 97.76L5.73 96.20L5.50 94.64L5.32 93.08L5.19 91.52L5.10 89.96L5.05 88.40L5.10 86.84L5.19 85.28L5.32 83.72L5.50 82.16L5.73 80.60L6.03 79.04L6.39 77.48L6.79 75.93L7.21 74.37L7.69 72.81L8.27 71.25L8.96 69.69L9.76 68.13L10.65 66.57L11.63 65.01L12.71 63.46L13.91 61.92L15.19 60.38L16.53 58.85L17.96 57.33L19.51 55.83L21.17 54.35L22.92 52.89L24.73 51.45L26.61 50.03L28.53 48.65L30.51 47.29L32.55 45.97L34.69 44.69L36.99 43.45L39.49 42.26L42.06 41.15L44.54 40.15L46.86 39.30L48.95 38.61L50.77 38.10L52.21 38.10L53.66 38.10L55.10 38.10L56.54 38.10L57.99 38.10L59.43 38.10L60.88 38.10L62.32 38.10L63.77 38.10L65.21 38.10L66.66 38.10L68.10 38.10L69.55 38.10L70.99 38.10L72.44 38.10L73.88 38.10L75.33 38.10L76.77 38.10L78.22 38.10L79.66 38.10L81.10 38.10L82.55 38.10L83.99 38.10L85.44 38.10L86.88 38.10L88.33 38.10L89.77 38.10L91.22 38.10L92.66 38.10L94.11 38.10L95.55 38.10L97.00 38.10L98.44 38.10L99.89 38.10L101.33 38.10L102.78 38.10L104.22 38.10L105.66 38.10L107.11 38.10L108.55 38.10L110.00 38.10L111.44 38.10L112.89 38.10L114.33 38.10L115.78 38.10L117.22 38.10L118.67 38.10L120.11 38.10L121.56 38.10L123.00 38.10L124.45 38.10L125.89 38.10L127.33 38.10L128.78 38.10L130.22 38.10L131.67 38.10L133.11 38.10L134.56 38.10L136.00 38.10L137.45 38.10L138.89 38.10L140.34 38.10L141.78 38.10L143.23 38.10L144.67 38.10L146.12 38.10L147.56 38.10L149.01 38.10L150.45 38.10L151.89 38.10L153.34 38.10Z"/><clipPath id="cl"><use href="#land"/></clipPath><clipPath id="co"><use href="#ol"/></clipPath><path id="casp" d="M125.64 60.38L126.40 59.46L126.97 59.31L127.53 59.15L128.33 59.46L128.56 60.38L127.66 60.68L128.13 61.61L128.94 62.35L129.29 63.46L129.80 64.70L130.14 65.14L129.41 65.29L128.68 65.45L127.84 65.01L127.47 64.39L127.50 63.28L126.54 62.22L126.16 61.61Z"/></defs><rect width="500" height="277" fill="#fff"/><g transform="translate(0,0)"><g clip-path="url(#co)"><use href="#ol" fill="#73b4f5"/><path d="M17.5 100.9L24.9 100.8L27.5 100.3L28.9 99.4L31.8 95.9L36.4 92.8L37.5 90.3L37.5 85.9L36.8 82.8L35.4 80.9L34.3 80.3L32.2 79.9L13.5 79.6L9.6 79.9L5.7 81.1L5.1 88.4L6.0 97.8L8.4 99.6L10.4 100.5L17.5 100.9ZM178.6 100.3L180.8 99.6L182.2 98.4L183.2 96.5L183.3 95.0L174.1 94.8L172.4 95.3L171.2 96.5L171.1 97.8L172.0 98.6L178.6 100.3ZM97.9 97.2L98.1 97.1L97.9 96.5L97.8 97.1L97.9 97.2ZM199.1 97.1L199.5 97.8L200.4 90.3L199.9 81.1L196.2 82.0L191.9 82.2L191.2 85.9L190.2 87.2L185.7 90.3L184.6 92.1L184.3 94.0L185.5 94.5L195.7 94.9L197.7 95.7L199.1 97.1ZM187.6 81.7L191.4 82.1L191.6 81.5L190.2 78.4L188.6 77.2L187.3 76.9L185.8 77.6L185.1 79.0L185.8 80.6L187.6 81.7Z" fill="#463791" fill-rule="evenodd"/><path d="M51.1 138.7L154.8 138.7L160.5 136.8L166.6 134.3L175.4 129.2L185.7 121.3L192.4 114.0L196.6 107.1L198.1 103.4L199.5 97.8L198.6 96.5L197.2 95.4L195.2 94.8L185.5 94.5L184.3 94.0L184.6 92.1L185.7 90.3L190.2 87.2L191.2 85.9L191.9 82.2L196.2 82.0L199.9 81.1L198.4 74.7L197.1 70.8L191.9 69.8L184.7 70.0L183.0 71.0L179.9 74.7L178.3 75.9L176.0 76.9L170.9 78.0L168.4 79.6L167.7 81.5L167.8 89.6L165.9 95.9L165.7 98.4L166.8 100.9L170.9 103.4L171.5 104.0L171.6 105.2L170.2 106.5L166.3 108.7L164.7 110.2L158.5 120.7L152.5 127.6L150.2 129.2L147.7 130.4L141.8 130.8L118.0 130.7L116.6 130.1L115.9 129.2L115.6 126.5L116.3 123.6L117.2 121.9L118.6 120.5L122.3 118.3L123.5 116.4L123.0 114.6L119.9 112.1L119.1 110.9L118.6 108.4L118.9 107.1L143.4 107.1L146.8 106.5L148.5 105.5L149.8 104.0L150.5 102.1L150.8 99.0L150.6 97.8L149.7 96.2L148.3 95.3L146.5 94.8L134.7 94.6L130.9 95.0L129.0 95.9L125.3 99.4L120.3 102.6L119.4 104.0L118.4 107.1L108.5 107.2L105.4 107.9L104.1 109.0L103.3 110.2L102.5 115.8L101.0 118.3L97.4 120.7L94.8 124.0L93.6 124.8L91.9 125.3L87.2 125.5L85.6 126.1L84.7 127.0L83.5 129.6L82.3 130.5L79.8 130.8L54.8 130.8L52.5 130.5L49.9 129.6L43.9 126.5L38.3 124.2L35.4 121.9L35.1 120.3L36.5 118.4L36.7 117.3L34.3 110.9L34.4 109.0L35.3 107.9L36.7 107.4L39.2 107.1L82.9 106.9L85.2 105.9L88.0 102.7L90.0 101.6L91.6 101.4L98.5 102.5L100.6 102.1L102.2 101.3L103.8 99.6L104.5 97.1L103.9 94.0L102.8 91.5L101.0 89.6L98.4 88.6L84.3 88.4L81.1 87.6L79.7 86.5L78.9 85.3L78.3 80.3L77.8 78.4L76.6 77.1L74.5 76.2L69.2 76.0L65.9 76.5L63.7 77.8L60.3 80.9L58.0 81.5L55.9 80.6L53.0 77.4L50.5 76.2L43.1 75.8L35.3 74.8L26.7 74.7L18.9 72.5L12.2 72.1L8.5 70.8L7.1 74.7L5.7 81.1L9.1 80.0L11.8 79.6L33.3 80.0L34.8 80.6L36.3 82.0L37.2 84.0L37.6 86.5L37.5 90.3L36.4 92.8L31.8 95.9L28.9 99.4L27.0 100.5L23.9 100.9L11.6 100.7L8.6 99.8L6.0 97.8L8.1 105.2L11.0 110.9L14.2 115.2L18.6 120.1L23.3 124.2L29.3 128.7L34.2 131.9L39.0 134.3L46.0 137.2L51.1 138.7ZM178.4 100.3L172.0 98.6L171.1 97.8L171.2 96.5L172.4 95.3L174.1 94.8L183.3 95.0L183.2 96.5L182.2 98.4L180.3 99.9L178.4 100.3ZM97.8 97.1L97.9 96.5L97.9 96.5L98.1 97.1L97.8 97.1ZM187.3 81.5L185.5 80.3L185.1 79.0L186.3 77.3L187.8 76.9L189.0 77.4L190.2 78.4L191.6 81.5L191.4 82.1L190.9 82.1L187.3 81.5ZM138.1 87.3L139.7 87.6L141.3 86.9L142.1 85.3L141.6 84.0L140.7 83.4L139.6 83.2L137.8 84.0L137.0 85.9L138.1 87.3Z" fill="#587dd2" fill-rule="evenodd"/><path d="M51.9 130.4L56.0 130.8L79.8 130.8L82.3 130.5L83.5 129.6L84.7 127.0L85.6 126.1L87.2 125.5L91.9 125.3L93.6 124.8L94.8 124.0L97.4 120.7L101.0 118.3L102.5 115.8L103.3 110.2L104.8 108.3L108.0 107.2L118.4 107.1L119.1 104.6L120.2 102.7L125.3 99.4L129.2 95.7L132.0 94.8L138.4 94.6L146.0 94.7L147.6 95.0L149.3 95.9L150.3 97.1L150.8 99.0L150.5 102.1L149.8 104.0L147.8 106.0L144.5 107.0L118.9 107.1L118.6 108.4L119.1 110.9L119.9 112.1L123.0 114.6L123.5 116.4L122.3 118.3L118.4 120.7L116.8 122.4L115.7 125.9L115.7 128.7L116.9 130.3L119.2 130.8L144.5 130.8L148.3 130.1L151.9 128.1L155.8 124.2L159.3 119.5L165.3 109.6L167.0 108.2L170.2 106.5L171.6 105.2L171.5 104.0L170.9 103.4L166.8 100.9L165.7 98.4L165.9 95.9L167.8 89.6L167.7 81.5L168.4 79.7L170.9 78.0L176.0 76.9L178.3 75.9L179.9 74.7L183.0 71.0L184.7 70.0L191.9 69.8L197.1 70.8L193.3 64.1L187.6 57.3L180.8 51.4L173.0 46.0L170.8 46.1L170.1 46.6L171.5 50.3L170.6 52.6L170.9 55.9L168.9 58.5L167.9 62.2L165.9 64.1L165.2 65.3L165.4 66.6L166.3 67.8L170.3 70.3L171.6 71.6L171.7 72.2L171.0 73.2L169.2 74.1L161.4 75.9L139.1 76.1L137.0 76.9L133.0 80.4L130.8 81.3L128.7 80.6L125.3 77.4L122.5 76.2L100.6 75.9L98.5 75.6L96.9 74.8L95.4 72.8L94.7 67.2L93.9 65.3L92.2 64.1L88.3 63.4L87.9 62.8L88.8 55.5L88.1 52.9L86.2 51.7L81.1 51.4L79.6 51.0L78.4 49.8L77.4 47.0L76.5 46.3L73.9 46.0L32.5 46.0L24.7 51.4L18.0 57.3L12.3 64.1L8.5 70.8L12.2 72.1L18.9 72.5L26.7 74.7L35.3 74.8L43.1 75.8L50.5 76.2L53.0 77.4L55.9 80.6L58.0 81.5L60.3 80.9L63.7 77.8L65.9 76.5L69.2 76.0L74.5 76.2L76.6 77.1L77.8 78.4L78.3 80.3L78.7 84.7L79.4 86.2L80.5 87.3L83.8 88.3L96.8 88.4L99.5 88.9L102.3 90.9L103.5 92.8L104.3 95.3L104.5 97.1L104.1 99.0L103.3 100.3L101.7 101.6L98.0 102.5L91.6 101.4L90.0 101.6L88.0 102.7L85.2 105.9L82.9 106.9L39.2 107.1L36.7 107.4L35.3 107.9L34.4 109.0L34.3 110.9L36.7 117.3L36.5 118.4L35.1 120.3L35.4 121.9L38.3 124.2L51.9 130.4ZM137.9 87.2L137.0 85.9L137.3 84.7L138.0 83.9L139.0 83.3L140.1 83.2L141.6 84.0L142.1 85.3L141.3 86.9L139.7 87.6L137.9 87.2ZM154.1 87.2L153.4 86.5L152.9 85.3L153.7 83.6L155.8 82.9L157.9 84.0L158.4 85.3L157.6 86.9L156.0 87.6L154.1 87.2ZM59.2 69.1L58.3 68.3L57.8 67.2L58.2 65.9L59.4 64.7L63.9 62.2L69.5 58.2L71.4 58.1L72.6 58.9L73.1 61.0L72.7 63.5L71.9 65.9L70.2 68.1L68.5 69.1L66.3 69.6L61.6 69.6L59.2 69.1ZM28.0 68.4L27.4 67.2L28.4 65.3L30.8 64.2L32.3 64.7L32.6 65.9L31.4 67.8L29.7 68.7L28.0 68.4ZM81.8 68.4L81.2 67.8L81.0 66.6L82.0 64.9L84.2 63.8L87.2 63.7L87.0 65.9L85.7 67.9L83.6 68.9L81.8 68.4Z" fill="#73b4f5" fill-rule="evenodd"/><path d="M154.3 87.3L156.5 87.5L158.0 86.5L158.4 85.3L157.5 83.6L155.2 82.9L153.3 84.0L153.0 85.9L154.3 87.3ZM129.2 81.0L130.3 81.3L131.9 81.0L136.5 77.2L139.1 76.1L161.4 75.9L169.2 74.1L171.0 73.2L171.7 72.2L171.6 71.6L170.3 70.3L166.3 67.8L165.4 66.6L165.2 65.3L165.9 64.1L167.9 62.2L168.9 58.5L170.9 55.9L170.6 52.6L171.5 50.3L170.1 46.6L170.8 46.1L173.0 46.0L164.5 41.6L154.8 38.1L50.8 38.1L41.0 41.6L32.5 46.0L73.9 46.0L76.5 46.3L77.4 47.0L78.4 49.8L79.6 51.0L81.1 51.4L86.2 51.7L88.1 52.9L88.8 55.5L87.9 62.8L88.3 63.4L92.2 64.1L93.9 65.3L94.7 67.2L95.4 72.8L96.9 74.8L98.5 75.6L100.6 75.9L122.5 76.2L124.9 77.2L129.2 81.0ZM59.6 69.2L61.6 69.6L66.3 69.6L68.5 69.1L70.2 68.1L71.9 65.9L72.7 63.5L73.1 61.0L72.6 58.9L71.4 58.1L69.5 58.2L63.9 62.2L59.4 64.7L58.2 65.9L57.8 67.2L58.4 68.4L59.6 69.2ZM28.2 68.5L29.7 68.7L31.4 67.8L32.6 65.9L32.3 64.7L30.8 64.2L28.4 65.3L27.4 67.2L28.2 68.5ZM82.0 68.6L84.1 68.8L85.8 67.8L87.0 65.9L87.2 63.7L84.2 63.8L82.0 64.9L81.0 66.6L81.2 67.8L82.0 68.6Z" fill="#96c8e8" fill-rule="evenodd"/><g clip-path="url(#cl)"><use href="#land" fill="#96c8e8"/><path d="M51.1 138.7L154.8 138.7L160.5 136.8L167.6 133.8L173.0 130.8L178.6 127.0L26.9 127.0L32.5 130.8L38.0 133.8L45.0 136.8L51.1 138.7ZM65.9 91.7L67.0 91.9L68.0 91.5L68.8 90.3L68.0 86.8L67.4 85.9L66.4 85.4L65.1 85.9L64.4 87.8L64.7 90.3L65.9 91.7Z" fill="#587dd2" fill-rule="evenodd"/><path d="M27.4 127.0L178.6 127.0L182.9 123.7L22.6 123.7L27.4 127.0ZM65.0 96.0L68.3 96.1L72.5 95.2L74.6 93.7L75.5 91.5L75.1 89.4L71.4 83.3L69.8 81.8L67.2 80.9L64.5 81.1L62.2 82.2L60.7 84.0L60.1 86.5L60.1 90.3L60.7 92.8L62.2 94.6L65.0 96.0ZM65.6 91.5L64.7 90.3L64.4 87.8L65.1 85.9L66.4 85.4L67.4 85.9L68.0 86.8L68.8 90.3L67.5 91.7L65.6 91.5ZM59.7 54.4L64.7 54.4L66.4 53.8L67.2 52.6L66.8 52.0L65.4 51.6L60.4 51.9L58.4 53.2L58.4 53.8L59.7 54.4Z" fill="#73b4f5" fill-rule="evenodd"/><path d="M23.1 123.7L182.9 123.7L187.6 119.5L191.9 114.6L194.9 110.2L197.2 105.9L199.1 99.6L200.1 94.0L200.5 88.4L200.1 82.2L174.6 82.2L170.8 81.6L168.6 80.3L165.1 77.2L159.5 74.1L157.7 72.2L154.9 67.8L153.0 65.9L149.7 64.6L144.9 63.8L143.1 64.1L142.2 64.8L141.8 65.9L142.1 67.8L143.9 70.3L148.1 72.8L148.5 73.4L148.2 74.7L144.8 77.2L142.0 80.3L140.6 81.4L138.4 82.0L132.5 82.3L130.4 82.7L128.3 84.0L125.6 86.9L123.4 87.8L121.2 87.3L116.9 84.6L112.0 84.0L106.6 84.3L104.1 85.3L100.1 87.6L97.3 87.6L92.5 84.8L87.1 82.6L85.5 81.1L83.0 77.0L81.4 76.2L79.8 76.0L59.0 76.1L49.7 78.2L43.4 81.5L40.6 82.1L5.5 82.2L5.1 88.4L5.4 94.0L6.5 99.6L8.4 105.9L11.0 110.9L14.2 115.2L19.2 120.7L22.6 123.7L23.1 123.7ZM70.2 118.9L67.7 117.0L67.4 115.3L68.2 114.0L70.6 112.1L71.4 110.9L71.6 109.0L71.4 105.2L71.9 103.4L73.0 102.0L76.6 99.9L78.2 98.4L79.2 96.5L80.8 91.5L81.6 90.0L82.7 89.4L84.3 89.7L85.6 90.9L86.4 93.4L87.8 114.6L87.5 117.0L86.1 118.6L83.9 119.3L73.0 119.3L70.2 118.9ZM113.2 112.7L111.6 111.5L110.8 109.6L110.7 106.5L111.2 104.0L112.7 102.1L116.9 99.6L120.1 96.5L121.7 95.5L123.3 95.3L125.0 95.9L128.5 99.4L132.5 102.0L133.7 103.4L134.1 105.9L133.5 109.0L132.3 111.1L130.1 112.7L127.8 113.3L122.8 113.3L115.8 113.3L113.2 112.7ZM158.1 112.1L157.6 110.9L158.1 109.6L159.3 108.4L162.3 106.5L163.4 104.6L163.3 102.1L161.1 99.6L160.5 98.4L161.0 96.5L163.3 95.1L167.1 94.6L171.9 95.0L174.0 95.9L177.7 99.6L179.1 100.4L186.4 101.2L187.9 101.8L188.6 102.7L188.4 104.6L187.1 105.9L182.2 108.4L175.8 112.4L173.3 112.5L170.5 109.8L168.2 109.2L165.4 109.6L160.2 112.5L159.2 112.6L158.1 112.1ZM64.7 95.9L62.2 94.6L60.7 92.8L60.0 89.6L60.1 85.9L61.1 83.4L62.8 81.8L65.0 81.0L67.7 81.0L69.8 81.8L71.5 83.4L75.2 89.6L75.4 92.1L74.4 94.0L72.3 95.3L67.7 96.2L64.7 95.9ZM18.4 57.3L41.1 57.3L50.0 55.8L58.0 57.3L90.5 57.3L93.0 56.4L98.8 51.9L106.7 50.9L108.2 49.8L110.0 47.3L111.5 46.5L113.2 47.0L114.3 48.1L115.3 49.8L116.5 53.8L117.7 55.5L119.1 56.5L121.1 57.2L132.9 57.3L140.6 55.7L151.6 55.6L156.4 55.8L164.5 57.3L187.6 57.3L180.1 50.9L171.3 44.9L163.5 41.1L154.8 38.1L50.8 38.1L41.0 41.6L33.4 45.5L24.0 52.0L18.0 57.3L18.4 57.3ZM59.4 54.4L58.4 53.8L58.4 53.2L59.2 52.4L60.9 51.8L65.8 51.7L66.8 52.0L67.2 52.6L66.4 53.8L64.7 54.4L59.4 54.4Z" fill="#96c8e8" fill-rule="evenodd"/><path d="M70.6 119.0L73.5 119.4L83.9 119.3L86.1 118.6L87.5 117.0L87.8 114.6L86.4 93.4L85.6 90.9L84.3 89.7L82.7 89.4L81.6 90.0L80.8 91.5L79.2 96.5L78.2 98.4L76.6 99.9L73.0 102.0L71.9 103.4L71.4 105.2L71.6 109.0L71.4 110.9L70.5 112.2L67.7 114.6L67.3 115.8L68.2 117.6L70.6 119.0ZM113.3 112.8L115.8 113.3L125.3 113.3L128.3 113.2L130.1 112.7L132.3 111.1L133.5 109.0L134.1 105.9L133.7 103.4L132.5 102.0L128.5 99.4L125.0 95.9L123.3 95.3L121.7 95.5L120.1 96.5L116.9 99.6L112.7 102.1L111.2 104.0L110.7 106.5L110.8 109.6L111.6 111.5L113.3 112.8ZM158.3 112.3L159.2 112.6L160.8 112.3L165.4 109.6L168.2 109.2L170.5 109.8L173.3 112.5L175.8 112.4L182.2 108.4L187.1 105.9L188.4 104.6L188.6 102.7L187.9 101.8L186.4 101.2L179.1 100.4L177.7 99.6L174.0 95.9L171.9 95.0L167.1 94.6L163.3 95.1L161.0 96.5L160.5 98.4L161.1 99.6L163.3 102.1L163.4 104.6L162.3 106.5L159.3 108.4L158.1 109.6L157.6 110.9L158.3 112.3ZM98.4 87.8L100.6 87.4L105.5 84.6L110.4 84.0L116.3 84.4L118.3 85.3L121.2 87.3L123.4 87.8L125.6 86.9L128.3 84.0L130.4 82.7L132.5 82.3L138.4 82.0L140.6 81.4L142.0 80.3L144.8 77.2L147.6 75.3L148.5 74.1L148.1 72.8L143.9 70.3L142.1 67.8L141.8 65.9L142.2 64.8L143.0 64.1L144.4 63.8L149.7 64.6L153.0 65.9L154.9 67.8L157.7 72.2L159.5 74.1L165.1 77.2L168.6 80.3L170.8 81.6L174.6 82.2L200.1 82.2L198.3 74.1L196.3 69.1L192.8 63.5L187.6 57.3L164.5 57.3L156.4 55.8L151.6 55.6L140.6 55.7L132.9 57.3L121.1 57.2L119.1 56.5L117.7 55.5L116.5 53.8L115.3 49.8L114.3 48.1L113.2 47.0L111.5 46.5L110.0 47.3L108.2 49.8L106.7 50.9L98.8 51.9L93.0 56.4L90.5 57.3L58.0 57.3L50.0 55.8L41.1 57.3L18.0 57.3L12.7 63.5L9.3 69.1L7.3 74.1L5.5 82.2L40.6 82.1L43.4 81.5L49.7 78.2L59.0 76.1L79.8 76.0L81.4 76.2L83.0 77.0L85.5 81.1L87.1 82.6L92.5 84.8L96.8 87.4L98.4 87.8ZM97.3 81.5L92.0 80.4L89.9 79.3L88.6 77.2L87.8 73.4L88.1 72.2L89.0 70.9L92.9 68.6L94.0 67.5L94.8 65.9L96.0 61.0L97.4 59.2L99.5 57.8L103.7 57.4L107.0 57.9L108.9 59.2L112.0 62.2L114.3 63.2L134.8 63.6L136.5 64.2L137.7 65.9L138.0 67.8L137.6 69.1L133.5 74.1L131.5 75.4L122.5 76.3L117.8 79.2L115.2 80.1L105.5 80.7L99.5 81.6L97.3 81.5ZM42.5 75.3L41.1 74.7L40.1 73.4L40.1 70.3L42.8 63.5L44.2 61.6L45.8 60.4L49.3 59.4L61.1 59.9L63.8 60.4L65.0 61.3L65.2 62.8L64.5 65.3L63.4 67.2L61.8 68.6L52.5 73.5L44.8 75.2L42.5 75.3ZM161.2 68.4L160.0 67.7L155.3 63.3L152.6 61.9L148.5 60.4L149.6 59.8L155.2 59.3L157.8 59.6L159.7 60.4L162.4 62.8L163.6 65.9L163.2 68.0L162.3 68.5L161.2 68.4Z" fill="#d7e4c3" fill-rule="evenodd"/><path d="M97.4 81.5L99.5 81.6L106.0 80.6L115.2 80.1L117.8 79.2L122.5 76.3L131.5 75.4L133.5 74.1L137.6 69.1L138.0 67.8L137.7 65.9L136.5 64.2L134.8 63.6L114.3 63.2L112.0 62.2L108.9 59.2L107.0 57.9L103.7 57.4L99.5 57.8L97.4 59.2L96.0 61.0L94.8 65.9L94.0 67.5L92.9 68.6L89.0 70.9L88.1 72.2L87.8 73.4L88.6 77.2L89.9 79.3L92.0 80.4L97.4 81.5ZM105.2 74.7L104.5 74.1L104.1 72.8L104.9 71.2L107.0 70.5L108.9 71.6L109.4 72.8L108.6 74.4L107.0 75.1L105.2 74.7ZM42.6 75.3L44.8 75.2L52.5 73.5L61.8 68.6L63.4 67.2L64.5 65.3L65.2 62.8L65.0 61.3L63.8 60.4L61.1 59.9L49.3 59.4L45.8 60.4L44.2 61.6L42.8 63.5L40.1 70.3L39.9 72.2L40.3 73.7L41.1 74.7L42.6 75.3ZM161.3 68.5L162.3 68.5L163.2 68.0L163.6 65.9L162.4 62.8L159.7 60.4L157.8 59.6L155.2 59.3L149.6 59.8L148.5 60.4L152.6 61.9L155.3 63.3L160.0 67.7L161.3 68.5Z" fill="#f0e8a5" fill-rule="evenodd"/><path d="M105.4 74.8L107.6 75.0L109.0 74.1L109.4 72.8L108.5 71.2L106.4 70.5L104.5 71.6L104.2 73.4L105.4 74.8Z" fill="#f5e191" fill-rule="evenodd"/><ellipse cx="66.5" cy="89.5" rx="5.5" ry="3.5" fill="#587dd2"/><ellipse cx="65.5" cy="89.0" rx="2.0" ry="1.3" fill="#463791"/><ellipse cx="147" cy="67.2" rx="3.2" ry="1.5" fill="#587dd2" transform="rotate(-10 147 67.2)"/><ellipse cx="60.5" cy="50.5" rx="3.0" ry="1.6" fill="#96c8e8"/></g><use href="#casp" fill="none" stroke="#000" stroke-width="0.45"/><use href="#land" fill="none" stroke="#000" stroke-width="0.6" stroke-linejoin="round"/></g><use href="#ol" fill="none" stroke="#333" stroke-width="0.6"/></g><g transform="translate(252.4,0)"><g clip-path="url(#co)"><use href="#ol" fill="#d7e4c3"/><path d="M17.5 100.9L24.9 100.8L27.7 99.6L28.9 98.4L29.7 96.5L29.7 94.0L29.0 91.5L27.5 89.6L25.7 88.8L18.1 88.3L15.9 87.6L10.8 83.1L9.2 82.8L7.5 83.4L5.8 85.3L5.1 88.4L5.5 94.6L6.6 97.7L8.0 99.3L10.4 100.5L17.5 100.9ZM89.9 97.8L91.6 97.8L92.3 97.1L92.3 96.5L90.9 95.6L89.6 95.9L89.0 96.5L89.1 97.1L89.9 97.8ZM188.0 80.7L189.6 80.5L190.1 79.0L189.3 77.8L187.9 77.2L186.9 77.8L186.8 79.0L188.0 80.7Z" fill="#73b4f5" fill-rule="evenodd"/><path d="M51.1 138.7L154.8 138.7L165.5 134.8L174.6 129.8L184.4 122.4L191.4 115.2L196.0 108.4L197.9 104.0L199.2 99.0L200.4 90.3L200.0 81.5L197.9 72.8L195.3 70.9L193.1 70.1L186.7 69.7L184.7 70.0L183.4 70.7L181.8 73.4L181.4 75.9L181.6 79.0L184.2 88.4L187.5 88.6L189.6 89.3L190.9 90.3L191.8 92.1L191.9 95.3L190.9 100.3L190.1 102.7L188.6 104.9L186.5 106.3L183.6 107.0L163.7 107.1L159.9 107.9L157.0 110.3L151.5 120.7L146.3 127.6L144.2 129.2L141.8 130.4L135.9 130.8L113.7 130.8L111.1 130.4L109.8 129.2L109.3 127.6L109.8 118.9L109.3 115.8L107.3 113.9L103.8 113.3L99.8 113.5L97.3 114.4L93.9 118.3L90.3 120.9L87.9 124.2L86.2 125.1L48.6 125.4L47.3 125.9L46.9 126.5L47.2 130.1L45.8 130.2L43.7 129.4L40.5 127.6L36.5 124.2L32.1 119.5L30.3 116.4L30.3 114.6L32.6 112.2L33.1 110.9L32.2 104.6L33.2 102.7L34.6 101.6L37.7 100.9L50.5 101.1L53.4 102.2L58.2 105.7L60.4 106.2L61.8 105.6L64.8 102.1L67.1 101.1L80.9 100.9L89.0 102.4L92.7 102.4L99.6 101.0L107.0 100.4L109.2 98.9L109.6 97.8L109.2 96.5L107.8 95.3L104.4 93.2L101.1 89.9L99.0 88.8L96.3 88.4L83.8 88.3L81.1 87.6L79.7 86.5L78.9 85.3L78.3 80.3L77.8 78.4L76.6 77.1L74.5 76.2L69.7 75.9L66.5 76.3L64.2 77.4L60.3 80.9L58.0 81.5L55.9 80.6L52.5 77.0L50.0 76.1L12.1 75.8L9.2 74.8L7.7 72.8L5.4 82.8L5.1 88.4L5.3 92.8L6.0 97.8L7.7 104.0L9.3 107.7L11.4 111.5L14.7 115.8L18.6 120.1L23.3 124.2L29.3 128.7L34.2 131.9L39.0 134.3L46.0 137.2L51.1 138.7ZM17.5 100.9L10.4 100.5L8.0 99.3L6.6 97.7L5.5 94.6L5.1 88.4L5.8 85.3L7.5 83.4L9.2 82.8L10.8 83.1L15.9 87.6L18.1 88.3L25.7 88.8L27.5 89.6L29.0 91.5L29.7 94.0L29.7 96.5L28.9 98.4L27.7 99.6L24.9 100.8L17.5 100.9ZM89.7 97.8L89.1 97.1L89.0 96.5L89.8 95.8L91.4 95.8L92.3 96.5L92.3 97.1L91.6 97.8L89.7 97.8ZM187.4 80.3L186.8 79.0L186.9 77.8L187.9 77.2L189.0 77.6L190.1 79.0L189.8 80.3L188.5 80.8L187.4 80.3ZM130.5 100.4L133.7 100.8L146.0 100.6L148.8 99.5L149.7 98.4L149.8 97.1L148.6 95.6L146.5 94.8L131.9 94.8L129.8 95.6L128.4 97.1L128.6 99.0L130.5 100.4ZM178.5 93.5L180.7 93.8L182.4 92.8L183.6 90.9L183.9 89.0L183.7 88.5L180.4 88.8L178.2 89.8L177.3 91.5L177.7 92.8L178.5 93.5ZM154.3 87.3L156.0 87.6L157.6 86.9L158.4 85.3L157.9 84.0L155.8 83.0L153.7 83.6L152.9 85.3L153.4 86.5L154.3 87.3Z" fill="#96c8e8" fill-rule="evenodd"/><path d="M111.1 130.4L112.5 130.8L116.4 130.8L138.7 130.8L141.8 130.4L145.0 128.7L148.3 125.4L152.3 119.5L156.6 110.9L159.2 108.3L161.0 107.5L163.2 107.2L183.6 107.0L186.5 106.3L188.6 104.9L190.1 102.7L190.9 100.3L191.9 95.3L191.8 92.1L190.9 90.3L189.6 89.3L187.5 88.6L184.2 88.4L181.6 79.0L181.4 75.9L181.8 73.4L183.4 70.7L184.7 70.0L186.7 69.7L193.1 70.1L195.3 70.9L197.9 72.8L196.3 69.1L194.1 65.3L188.7 58.5L183.0 53.2L175.4 47.6L173.0 46.0L170.6 46.2L170.1 46.7L170.6 47.8L176.7 53.8L177.5 54.9L177.7 56.1L176.1 58.5L175.2 62.4L172.7 64.7L170.8 68.4L167.5 70.9L164.6 74.7L163.0 75.6L160.9 75.9L140.1 76.1L137.6 77.2L133.0 81.2L130.9 82.0L128.7 82.2L101.2 82.1L98.5 81.7L96.8 80.8L96.1 79.7L96.3 77.9L100.3 74.7L100.6 73.4L99.4 72.2L95.5 70.1L93.8 67.8L93.6 65.3L95.5 58.5L96.3 49.8L95.5 47.3L93.4 46.1L83.2 46.0L79.9 47.3L78.0 49.2L76.8 51.4L72.9 62.8L72.3 63.4L67.5 64.3L62.1 68.4L59.6 69.4L53.8 69.6L51.2 69.1L49.7 67.8L48.0 64.7L45.1 62.2L43.4 58.1L41.5 57.4L36.4 57.2L35.1 56.6L34.8 55.5L35.6 53.8L41.2 47.6L41.3 46.4L39.9 46.0L32.5 46.0L30.1 47.6L24.0 52.0L19.2 56.1L14.7 61.0L11.4 65.3L9.3 69.1L7.7 72.8L9.0 74.7L10.6 75.5L14.3 75.9L50.0 76.1L52.5 77.0L55.9 80.6L58.0 81.5L60.3 80.9L64.2 77.4L66.5 76.3L69.7 75.9L74.5 76.2L76.6 77.1L77.8 78.4L78.3 80.3L78.9 85.3L79.7 86.5L81.1 87.6L83.8 88.3L96.3 88.4L99.0 88.8L101.1 89.9L104.4 93.2L108.2 95.5L109.2 96.6L109.6 97.8L109.1 99.0L107.0 100.4L99.6 101.0L92.2 102.5L88.4 102.3L80.9 100.9L67.1 101.1L64.8 102.1L61.8 105.6L60.4 106.2L58.2 105.7L53.4 102.2L50.5 101.1L38.3 100.9L35.1 101.3L33.7 102.2L32.4 104.0L32.2 105.9L33.1 110.9L32.6 112.2L30.3 114.6L30.3 116.4L31.7 118.9L34.2 121.9L38.4 125.9L41.3 128.2L44.5 129.8L46.7 130.3L47.4 129.5L46.9 126.3L47.6 125.7L48.6 125.4L86.2 125.1L87.9 124.2L90.3 120.9L93.9 118.3L97.3 114.4L99.8 113.5L104.3 113.4L107.7 114.1L108.9 115.2L109.6 116.4L109.8 118.9L109.3 127.6L109.8 129.2L111.1 130.4ZM136.0 112.7L134.8 111.5L134.7 110.2L135.9 108.5L137.6 107.6L140.3 107.2L144.9 107.3L146.4 107.8L147.6 109.0L147.6 110.2L147.0 111.3L144.5 112.9L139.3 113.3L136.0 112.7ZM52.0 112.1L50.6 110.9L50.2 109.6L50.6 108.6L51.5 108.2L53.7 108.8L55.3 110.9L55.2 111.8L54.4 112.4L53.4 112.5L52.0 112.1ZM130.1 100.3L128.6 99.0L128.4 97.1L129.8 95.6L131.9 94.8L146.5 94.8L148.6 95.6L149.8 97.1L149.7 98.4L148.8 99.5L146.0 100.6L133.2 100.8L130.1 100.3ZM178.3 93.4L177.7 92.8L177.3 91.5L178.2 89.8L180.4 88.8L183.7 88.5L183.9 89.0L183.6 90.9L182.4 92.8L180.1 93.9L178.3 93.4ZM154.1 87.2L153.4 86.5L152.9 85.3L153.7 83.6L155.8 83.0L157.9 84.0L158.4 85.3L157.6 86.9L156.0 87.6L154.1 87.2ZM20.3 69.1L19.3 67.8L19.5 66.6L21.4 64.8L23.4 63.9L26.2 63.5L30.6 63.6L31.9 64.1L32.7 65.3L32.5 66.6L31.5 67.8L28.9 69.2L23.6 69.6L20.3 69.1ZM74.0 68.4L72.8 66.6L72.8 64.7L73.2 63.7L75.7 63.7L77.8 64.7L78.5 65.9L77.9 67.8L75.8 68.9L74.0 68.4Z" fill="#d7e4c3" fill-rule="evenodd"/><path d="M136.4 112.9L140.3 113.3L144.5 112.9L147.0 111.3L147.6 110.2L147.6 109.0L146.4 107.8L144.4 107.3L139.8 107.2L137.2 107.7L135.3 109.0L134.7 110.2L135.1 112.0L136.4 112.9ZM52.3 112.2L54.4 112.4L55.2 111.8L55.3 110.9L53.7 108.8L51.5 108.2L50.3 109.0L50.3 110.2L51.2 111.5L52.3 112.2ZM111.4 82.2L130.3 82.1L133.0 81.2L137.6 77.2L140.1 76.1L160.9 75.9L164.0 75.1L165.3 74.1L167.5 70.9L171.0 68.2L172.7 64.7L175.3 62.2L176.1 58.5L177.7 56.3L177.5 54.9L176.7 53.8L170.3 47.3L170.1 46.7L170.6 46.2L173.0 46.0L164.5 41.6L154.8 38.1L50.8 38.1L41.0 41.6L32.5 46.0L39.9 46.0L41.3 46.4L41.3 47.3L40.5 48.6L35.2 54.4L34.8 55.5L35.1 56.6L36.4 57.2L41.5 57.4L43.0 57.9L43.9 58.8L45.1 62.2L48.0 64.7L50.3 68.4L52.3 69.4L55.4 69.7L60.7 69.1L62.4 68.2L66.9 64.6L69.2 63.7L72.3 63.4L72.9 62.8L74.9 56.1L77.0 50.9L78.4 48.6L80.5 46.9L84.0 46.0L92.2 46.0L94.5 46.4L96.0 48.1L96.3 50.9L95.5 58.5L93.7 64.7L93.6 67.2L95.0 69.7L99.4 72.2L100.6 73.4L100.3 74.7L96.4 77.8L96.1 79.7L97.4 81.2L99.5 81.9L111.4 82.2ZM121.8 75.3L119.8 74.1L116.9 71.2L115.3 70.2L113.2 69.8L106.9 69.5L100.2 67.7L98.7 66.6L98.8 64.7L103.8 59.2L105.6 57.9L110.3 57.3L114.3 57.9L116.2 59.2L119.4 62.2L123.7 64.7L127.6 68.2L131.6 70.6L132.8 72.2L132.3 74.1L129.9 75.6L125.2 75.9L121.8 75.3ZM20.6 69.2L25.7 69.6L29.4 69.1L32.1 67.2L32.7 65.9L32.5 64.8L31.5 63.9L29.7 63.5L25.1 63.6L22.8 64.1L20.6 65.3L19.5 66.6L19.5 68.3L20.6 69.2ZM74.3 68.6L76.3 68.8L77.9 67.8L78.5 65.9L77.8 64.7L75.7 63.7L73.2 63.7L72.8 64.7L72.8 66.6L73.3 67.8L74.3 68.6Z" fill="#f0e8a5" fill-rule="evenodd"/><path d="M121.9 75.4L125.2 75.9L129.9 75.6L132.3 74.1L132.8 72.2L131.6 70.6L127.6 68.2L123.7 64.7L119.4 62.2L116.2 59.2L114.3 57.9L110.3 57.3L105.6 57.9L103.8 59.2L98.8 64.7L98.7 66.6L100.2 67.7L106.9 69.5L113.2 69.8L115.3 70.2L117.4 71.6L120.3 74.4L121.9 75.4Z" fill="#f5e191" fill-rule="evenodd"/><g clip-path="url(#cl)"><use href="#land" fill="#f0e8a5"/><path d="M51.1 138.7L154.8 138.7L160.5 136.8L167.6 133.8L173.0 130.8L178.6 127.0L26.9 127.0L32.5 130.8L38.0 133.8L45.0 136.8L51.1 138.7Z" fill="#96c8e8" fill-rule="evenodd"/><path d="M27.4 127.0L178.6 127.0L182.9 123.7L22.6 123.7L27.4 127.0Z" fill="#d7e4c3" fill-rule="evenodd"/><path d="M23.1 123.7L182.9 123.7L187.6 119.5L192.4 114.0L195.6 109.0L197.9 104.0L199.1 99.6L199.8 96.5L200.5 89.0L200.1 82.2L198.8 75.9L155.1 76.2L153.1 77.1L152.0 78.4L151.5 80.3L151.2 84.7L150.7 85.9L149.6 87.2L146.8 88.3L139.1 88.8L137.5 89.7L136.1 91.5L135.6 94.0L136.8 94.5L193.6 94.7L196.2 95.0L197.8 95.9L198.8 97.1L199.0 99.0L198.3 102.1L197.3 104.0L195.2 105.9L190.0 108.4L184.3 112.1L180.4 113.3L168.8 113.4L166.1 113.7L163.5 114.8L158.1 118.4L154.7 119.3L116.9 119.4L57.4 119.3L54.4 118.3L49.4 114.8L44.2 112.2L42.4 110.9L40.5 107.7L39.1 102.7L38.7 98.4L39.7 96.2L41.2 95.2L43.3 94.7L63.9 94.6L67.6 93.8L68.9 92.8L69.7 91.5L70.4 86.5L71.1 84.7L72.5 83.3L76.3 80.9L77.2 79.7L77.0 77.8L75.5 76.5L71.8 76.0L59.0 76.2L56.6 77.2L53.1 80.3L51.1 81.5L48.7 82.1L45.5 82.2L42.8 82.0L40.7 81.4L39.3 80.3L36.7 77.2L34.0 76.1L6.8 75.9L5.5 82.2L5.1 89.0L5.8 96.5L7.7 104.0L9.9 109.0L13.2 114.0L18.6 120.1L22.6 123.7L23.1 123.7ZM129.5 99.8L131.6 100.0L133.4 99.0L134.5 97.1L134.6 95.0L131.4 95.0L129.2 96.1L128.3 97.8L128.6 99.0L129.5 99.8ZM144.2 68.6L146.3 68.8L147.2 68.1L147.4 67.2L146.1 65.3L144.7 64.6L143.6 64.5L142.5 65.3L142.4 66.6L143.2 67.8L144.2 68.6ZM180.3 63.5L188.7 63.2L190.1 62.2L190.4 60.4L187.0 56.7L183.0 53.2L173.0 46.0L164.5 41.6L154.8 38.1L50.8 38.1L41.0 41.6L32.5 46.0L22.6 53.2L18.6 56.7L15.2 60.4L18.5 58.5L21.5 57.6L34.0 57.3L36.8 56.8L55.9 47.2L59.4 46.1L70.2 46.2L71.4 47.0L72.4 50.3L74.2 51.3L91.5 51.4L99.0 49.8L101.1 49.0L107.0 45.1L109.3 42.0L110.9 41.2L144.0 41.2L147.8 41.8L151.2 43.5L152.6 44.9L152.3 47.0L153.2 48.6L155.5 50.3L162.7 53.8L164.8 55.5L169.0 60.4L170.9 61.9L174.7 63.3L180.3 63.5ZM117.7 50.4L119.5 50.6L120.1 50.1L120.4 49.2L119.6 47.6L118.7 46.9L117.4 46.6L116.6 47.0L116.1 48.1L116.4 49.2L117.7 50.4Z" fill="#f0e8a5" fill-rule="evenodd"/><path d="M55.8 118.9L59.9 119.4L154.2 119.4L158.1 118.4L163.5 114.8L166.7 113.6L179.9 113.3L182.7 112.8L185.4 111.5L190.0 108.4L195.0 106.0L196.8 104.6L198.1 102.7L199.0 99.6L199.0 97.8L197.8 95.9L196.2 95.0L193.6 94.7L136.8 94.5L135.6 94.0L136.1 91.5L137.5 89.7L139.1 88.8L146.8 88.3L149.6 87.2L150.7 85.9L151.2 84.7L151.5 80.3L152.0 78.4L152.9 77.2L154.6 76.3L157.7 75.9L198.8 75.9L198.1 73.4L194.9 66.6L190.4 60.4L190.0 62.4L189.1 63.1L187.8 63.4L175.8 63.4L172.3 62.7L169.0 60.4L164.8 55.5L162.7 53.8L153.8 49.2L152.3 47.1L152.6 44.9L151.2 43.5L147.8 41.8L144.7 41.2L110.9 41.2L109.3 42.0L107.0 45.1L101.1 49.0L99.0 49.8L91.5 51.4L74.2 51.3L72.4 50.3L71.4 47.0L70.2 46.2L59.4 46.1L55.9 47.2L36.8 56.8L34.0 57.3L21.5 57.6L18.5 58.5L15.2 60.4L12.3 64.1L9.6 68.4L7.9 72.2L6.8 75.9L34.0 76.1L36.7 77.2L39.3 80.3L40.7 81.4L44.4 82.1L48.7 82.1L50.9 81.6L52.6 80.7L56.6 77.2L59.6 76.1L73.4 76.0L75.5 76.6L77.0 77.8L77.3 79.0L76.9 80.3L72.5 83.3L71.1 84.7L70.4 86.5L69.7 91.5L68.9 92.8L67.6 93.8L63.9 94.6L43.3 94.7L40.7 95.5L39.1 97.1L38.7 99.6L39.2 103.4L40.5 107.7L41.9 110.2L44.0 112.1L49.1 114.6L53.3 117.6L55.8 118.9ZM113.4 112.7L112.0 111.5L111.7 110.2L112.6 108.5L114.2 107.6L116.8 107.2L121.5 107.3L123.5 108.1L124.6 109.6L124.0 111.5L121.9 112.9L116.8 113.2L113.4 112.7ZM129.3 99.6L128.6 99.0L128.3 97.8L129.4 95.9L131.9 94.9L134.6 95.0L134.5 97.1L133.3 99.0L131.1 100.1L129.3 99.6ZM89.9 81.5L88.3 80.3L88.0 78.4L89.4 76.8L92.9 74.7L94.3 72.8L94.9 70.3L95.9 56.7L97.3 54.4L99.7 53.2L105.4 52.0L107.2 52.3L111.1 55.9L115.4 58.5L119.6 62.4L122.3 63.3L127.8 63.5L130.1 64.1L132.5 65.9L133.7 68.4L134.1 72.2L133.7 73.4L132.5 74.8L130.0 75.8L124.1 76.0L122.0 76.5L120.0 77.8L117.3 80.7L115.2 81.8L112.0 82.2L94.1 82.1L89.9 81.5ZM51.2 69.1L49.8 67.5L49.7 65.3L51.3 61.6L53.5 59.2L55.8 57.9L58.5 57.4L63.1 57.5L65.2 58.5L65.8 60.4L65.4 62.8L64.2 65.9L62.5 68.1L60.7 69.1L58.5 69.6L53.8 69.6L51.2 69.1ZM144.0 68.4L142.7 67.2L142.4 65.9L143.1 64.7L144.1 64.5L146.1 65.3L147.4 67.2L147.2 68.1L146.3 68.8L145.3 68.9L144.0 68.4ZM159.1 68.4L149.2 61.6L147.8 59.8L148.0 58.3L150.0 57.5L155.2 57.5L157.5 58.1L160.0 59.8L162.4 62.8L163.7 66.6L163.4 67.8L162.4 68.7L160.9 69.0L159.1 68.4ZM117.5 50.3L116.4 49.2L116.1 48.1L116.6 47.0L117.8 46.6L119.6 47.6L120.4 49.2L120.1 50.1L119.5 50.6L117.5 50.3Z" fill="#f5e191" fill-rule="evenodd"/><path d="M113.8 112.9L117.8 113.3L121.9 112.9L124.0 111.5L124.6 109.6L123.5 108.1L121.5 107.3L116.8 107.2L114.2 107.6L112.6 108.5L111.7 110.2L112.4 112.0L113.8 112.9ZM90.4 81.7L98.5 82.2L112.5 82.1L115.2 81.8L117.3 80.7L120.0 77.8L122.0 76.5L124.1 76.0L130.0 75.8L132.5 74.8L133.7 73.4L134.1 72.2L133.5 67.8L132.0 65.3L129.9 64.0L127.8 63.5L122.3 63.3L119.6 62.4L115.4 58.5L111.1 55.9L107.2 52.3L105.4 52.0L99.7 53.2L97.3 54.4L95.9 56.7L94.9 70.3L94.3 72.8L92.9 74.7L89.4 76.8L88.0 78.4L88.3 80.3L90.4 81.7ZM51.3 69.1L53.8 69.6L58.5 69.6L60.7 69.1L62.5 68.1L64.2 65.9L65.4 62.8L65.8 60.4L65.2 58.5L63.1 57.5L58.5 57.4L55.8 57.9L53.5 59.2L51.3 61.6L49.7 65.3L49.9 67.8L51.3 69.1ZM159.2 68.5L160.9 69.0L162.4 68.7L163.4 67.8L163.7 66.6L162.4 62.8L160.0 59.8L157.5 58.1L155.2 57.5L150.0 57.5L148.0 58.3L147.8 59.8L149.2 61.6L159.2 68.5Z" fill="#fac878" fill-rule="evenodd"/><ellipse cx="65" cy="90.5" rx="4.0" ry="2.8" fill="#d7e4c3"/><ellipse cx="64" cy="90" rx="2.0" ry="1.4" fill="#96c8e8"/><ellipse cx="112" cy="76.5" rx="1.6" ry="1.2" fill="#f5965a"/></g><use href="#casp" fill="none" stroke="#000" stroke-width="0.45"/><use href="#land" fill="none" stroke="#000" stroke-width="0.6" stroke-linejoin="round"/></g><use href="#ol" fill="none" stroke="#333" stroke-width="0.6"/></g><g transform="translate(0,127.6)"><g clip-path="url(#co)"><use href="#ol" fill="#f0e8a5"/><path d="M151.3 124.8L154.8 125.3L159.2 124.8L167.1 120.7L173.2 117.9L175.9 115.8L177.8 113.3L178.9 110.9L178.7 108.7L177.5 107.9L176.0 107.8L174.1 108.6L170.2 111.5L167.6 112.8L165.4 113.3L159.7 113.5L156.6 114.6L153.9 117.0L151.6 120.7L150.7 123.3L151.3 124.8ZM19.7 106.5L23.0 107.1L28.2 106.9L30.1 105.9L32.3 102.7L34.1 101.4L36.1 100.9L42.0 100.7L44.0 100.0L45.4 98.7L46.0 96.5L45.8 93.4L44.9 90.9L43.6 89.5L39.3 86.9L35.9 83.4L33.6 82.4L12.0 82.2L9.2 82.5L7.5 83.3L5.2 85.3L5.2 91.5L6.0 97.8L8.3 95.5L9.9 95.3L11.7 95.9L13.6 97.8L16.2 104.0L17.7 105.5L19.7 106.5ZM181.2 100.9L194.0 100.7L196.3 100.1L198.2 98.9L199.5 97.8L199.9 95.9L200.4 90.3L200.4 85.3L198.5 87.2L196.2 88.2L182.0 88.5L179.9 89.1L178.2 90.2L176.9 91.5L176.0 93.4L175.9 97.8L176.5 99.0L177.6 100.1L179.1 100.7L181.2 100.9ZM81.4 99.8L83.5 100.0L84.9 99.0L85.3 97.8L84.4 96.1L82.3 95.4L80.3 96.5L80.0 98.4L81.4 99.8ZM186.4 81.0L188.1 81.4L189.6 80.7L190.1 79.0L189.4 77.8L187.3 77.0L185.7 77.8L185.2 79.7L186.4 81.0Z" fill="#d7e4c3" fill-rule="evenodd"/><path d="M51.1 138.7L154.8 138.7L160.5 136.8L167.6 133.8L177.0 128.2L186.4 120.7L192.8 113.3L196.9 106.5L199.5 97.8L196.9 99.8L194.0 100.7L180.6 100.9L178.6 100.5L177.0 99.6L176.1 98.4L175.7 96.5L175.9 94.0L176.6 92.1L178.1 90.3L179.9 89.1L182.6 88.4L196.2 88.2L198.5 87.2L200.4 85.3L199.2 77.8L196.6 69.7L186.2 69.7L183.4 70.7L180.3 74.2L176.4 77.8L175.8 79.7L175.3 84.7L173.9 86.5L171.7 88.0L168.5 88.4L141.9 88.4L138.1 89.2L133.1 93.5L130.9 94.3L127.6 94.7L127.1 95.3L126.7 101.5L126.0 103.9L124.3 105.9L122.1 106.4L120.1 105.6L116.9 102.1L112.7 99.6L109.2 96.1L104.7 93.4L100.6 89.5L97.9 88.5L91.9 88.3L89.2 87.6L84.6 83.4L80.4 80.9L77.1 77.4L75.0 76.3L70.8 75.9L66.5 76.3L64.2 77.4L60.3 80.9L58.0 81.5L55.9 80.6L53.0 77.4L50.5 76.2L19.6 75.8L17.0 74.7L14.6 71.2L13.5 70.3L12.0 69.8L9.0 69.7L6.3 77.8L5.2 85.3L8.1 83.0L10.9 82.2L33.0 82.3L35.9 83.4L39.3 86.9L43.6 89.5L44.9 90.9L45.8 93.4L46.0 96.5L45.5 98.4L44.6 99.6L42.0 100.7L36.1 100.9L34.1 101.4L32.3 102.7L29.9 106.0L27.7 107.0L21.4 107.0L17.7 105.5L15.8 103.4L13.5 97.8L12.5 96.5L11.0 95.6L9.9 95.3L8.3 95.5L6.0 97.8L7.9 104.6L10.3 109.6L14.2 115.2L19.8 121.3L27.0 127.0L35.1 132.4L43.1 136.1L51.1 138.7ZM151.2 124.8L150.7 123.0L151.6 120.7L153.9 117.0L156.6 114.6L159.7 113.5L165.4 113.3L167.6 112.8L170.2 111.5L174.1 108.6L176.0 107.8L177.5 107.9L178.7 108.7L178.9 110.9L177.8 113.3L175.9 115.8L173.2 117.9L167.1 120.7L159.2 124.8L154.4 125.3L151.2 124.8ZM47.3 118.3L44.9 116.4L43.1 114.0L41.9 110.9L42.3 108.7L44.0 107.5L46.5 107.2L51.2 107.3L54.0 108.4L55.5 110.2L55.2 112.1L52.5 114.6L50.8 118.3L49.1 118.8L47.3 118.3ZM136.0 112.7L134.8 111.5L134.7 110.2L135.9 108.5L137.6 107.6L140.3 107.2L144.9 107.3L146.4 107.8L147.6 109.0L147.6 110.2L147.0 111.3L144.5 112.9L139.3 113.3L136.0 112.7ZM81.1 99.6L80.4 99.0L79.9 97.8L80.7 96.1L82.8 95.4L84.8 96.5L85.3 97.8L84.6 99.4L83.0 100.1L81.1 99.6ZM186.2 80.9L185.2 79.7L185.3 78.4L185.8 77.7L186.8 77.1L187.8 77.0L189.4 77.8L190.1 79.0L189.6 80.7L188.1 81.4L186.2 80.9ZM122.8 94.1L125.5 94.5L126.8 94.0L126.1 90.9L125.0 89.8L123.9 89.3L121.8 89.5L120.5 90.9L120.8 92.8L122.8 94.1Z" fill="#f0e8a5" fill-rule="evenodd"/><path d="M47.4 118.3L49.1 118.8L50.8 118.3L52.5 114.6L55.2 112.1L55.5 110.2L54.0 108.4L51.2 107.3L46.5 107.2L44.0 107.5L42.3 108.7L41.9 110.9L43.1 114.0L44.9 116.4L47.4 118.3ZM136.4 112.9L140.3 113.3L144.5 112.9L147.0 111.3L147.6 110.2L147.6 109.0L146.4 107.8L144.9 107.3L140.3 107.2L137.6 107.6L135.9 108.5L134.7 110.2L135.1 112.0L136.4 112.9ZM120.6 105.9L122.1 106.4L123.2 106.4L124.3 105.9L125.6 104.6L126.6 102.1L127.1 95.3L127.6 94.7L132.5 93.8L138.1 89.2L141.9 88.4L168.5 88.4L171.7 88.0L173.9 86.5L175.3 84.7L175.8 79.7L176.4 77.8L180.3 74.2L183.4 70.7L186.2 69.7L196.6 69.7L193.7 64.7L189.8 59.8L185.7 55.5L180.1 50.9L173.8 46.5L168.6 43.5L161.5 40.3L154.8 38.1L50.8 38.1L44.1 40.3L37.0 43.5L31.7 46.5L25.5 50.9L19.8 55.5L15.7 59.8L11.8 64.7L9.0 69.7L12.0 69.8L13.5 70.3L14.6 71.2L17.0 74.7L19.6 75.8L50.5 76.2L53.0 77.4L55.9 80.6L58.0 81.5L60.3 80.9L64.2 77.4L66.5 76.3L70.8 75.9L75.0 76.3L77.1 77.4L80.4 80.9L84.6 83.4L89.2 87.6L91.9 88.3L97.9 88.5L100.6 89.5L104.7 93.4L109.2 96.1L112.7 99.6L116.9 102.1L120.6 105.9ZM122.5 94.0L120.8 92.8L120.5 90.9L121.2 89.9L122.3 89.3L124.5 89.5L126.1 90.9L126.8 94.0L125.5 94.5L122.5 94.0ZM113.8 75.3L112.3 74.4L108.0 70.5L105.9 69.8L98.6 69.3L96.9 68.4L95.6 66.5L95.4 61.6L95.8 56.7L96.4 54.4L97.8 52.6L101.3 50.3L103.6 47.6L105.1 46.4L107.1 46.0L117.5 45.7L118.7 44.8L119.8 41.9L121.4 41.2L149.7 41.2L154.4 42.2L167.0 47.0L169.9 48.6L171.2 50.3L170.6 52.6L170.9 55.9L168.8 59.2L169.2 61.0L171.3 66.5L171.0 68.1L169.8 69.1L166.9 69.7L146.1 69.9L144.0 70.9L140.5 74.8L137.4 75.8L117.2 75.9L113.8 75.3ZM27.5 68.4L27.1 67.2L28.3 65.3L30.8 64.2L32.3 64.7L32.6 65.9L31.4 67.8L29.1 68.9L27.5 68.4ZM58.5 68.4L58.0 67.8L58.0 66.6L59.3 64.9L61.6 63.8L64.7 63.5L64.0 65.9L62.5 67.9L60.2 68.9L58.5 68.4ZM65.2 62.8L65.6 61.0L65.4 59.2L64.7 58.2L63.5 57.6L37.3 57.3L35.4 56.7L35.1 55.5L36.5 53.8L38.3 52.6L52.5 46.3L55.2 46.0L73.9 46.0L76.8 46.4L77.5 47.6L77.5 49.2L73.1 60.4L71.7 61.9L69.4 63.0L65.8 63.4L65.3 63.4L65.2 62.8Z" fill="#f5e191" fill-rule="evenodd"/><path d="M114.0 75.4L117.7 75.9L137.4 75.8L140.5 74.8L144.0 70.9L146.1 69.9L166.9 69.7L169.8 69.1L171.0 68.1L171.3 66.5L169.2 61.0L168.8 59.2L170.9 55.9L170.6 52.6L171.2 50.3L169.9 48.6L167.0 47.0L154.4 42.2L149.7 41.2L121.4 41.2L119.8 41.9L118.7 44.8L117.5 45.7L107.1 46.0L105.1 46.4L103.6 47.6L101.3 50.3L97.8 52.6L96.4 54.4L95.8 56.7L95.4 61.6L95.6 66.5L96.9 68.4L98.6 69.3L105.9 69.8L108.0 70.5L112.3 74.4L114.0 75.4ZM27.7 68.6L29.6 68.8L31.4 67.8L32.6 65.9L32.3 64.7L30.8 64.2L28.3 65.3L27.1 67.2L27.7 68.6ZM58.7 68.6L60.8 68.8L62.6 67.8L64.0 65.9L64.7 63.5L61.6 63.8L59.3 64.9L58.0 66.6L58.0 67.8L58.7 68.6ZM65.3 63.4L69.9 62.8L71.7 61.9L73.1 60.4L77.5 49.2L77.5 47.6L76.8 46.4L73.9 46.0L55.2 46.0L52.5 46.3L38.3 52.6L36.5 53.8L35.1 55.5L35.4 56.7L37.3 57.3L63.5 57.6L64.7 58.2L65.4 59.2L65.6 60.4L65.3 63.4Z" fill="#fac878" fill-rule="evenodd"/><polygon points="17,84.4 21,83.9 24.5,97.4 19.5,97.9" fill="#96c8e8"/><g clip-path="url(#cl)"><use href="#land" fill="#fac878"/><path d="M51.1 138.7L154.8 138.7L160.5 136.8L167.6 133.8L173.0 130.8L178.6 127.0L26.9 127.0L32.5 130.8L38.0 133.8L45.0 136.8L51.1 138.7Z" fill="#f0e8a5" fill-rule="evenodd"/><path d="M27.4 127.0L178.6 127.0L182.9 123.7L22.6 123.7L27.4 127.0ZM79.6 50.9L82.0 51.4L91.5 51.4L98.6 49.8L100.3 48.8L103.2 45.6L107.0 43.9L109.7 41.7L111.2 41.2L163.5 41.1L154.8 38.1L50.8 38.1L42.1 41.1L79.7 41.3L80.5 42.0L80.6 43.0L78.5 48.6L78.7 50.0L79.6 50.9Z" fill="#f5e191" fill-rule="evenodd"/><path d="M23.1 123.7L182.9 123.7L188.2 118.9L192.8 113.3L196.0 108.4L198.1 103.4L199.9 95.9L200.5 88.4L200.0 81.5L198.4 74.7L196.9 70.3L194.1 65.3L190.9 61.0L187.0 56.7L181.6 52.0L174.6 47.0L169.5 43.9L163.5 41.1L110.9 41.2L109.7 41.7L107.0 43.9L103.2 45.6L100.5 48.6L99.0 49.7L92.8 51.2L87.6 51.4L81.1 51.3L79.6 50.9L78.9 50.3L78.4 49.2L78.5 48.1L80.6 42.7L80.4 41.7L79.4 41.2L42.1 41.1L36.0 43.9L30.1 47.6L23.3 52.6L17.4 57.9L12.7 63.5L9.9 67.8L7.9 72.2L6.2 78.4L5.2 85.3L5.2 91.5L6.0 97.8L7.9 104.6L10.3 109.6L13.7 114.6L18.6 120.1L22.6 123.7L23.1 123.7ZM62.7 118.9L60.4 117.6L57.8 115.2L55.8 112.2L54.8 109.6L54.6 106.5L55.2 104.0L56.7 102.1L61.1 99.0L62.0 95.9L61.7 94.8L58.4 94.3L56.4 93.4L55.4 92.1L55.6 90.5L56.3 89.6L57.7 88.9L61.5 88.6L62.0 89.0L62.3 94.0L62.8 94.5L65.5 94.4L67.6 93.6L68.8 92.1L68.5 90.3L66.8 89.0L62.6 88.2L62.3 87.8L62.6 85.9L63.7 84.0L65.5 82.8L67.1 82.3L80.6 82.1L83.5 81.5L85.3 80.3L86.3 78.4L86.7 75.9L86.6 73.4L85.9 71.9L85.0 70.8L83.5 70.1L81.4 69.7L68.9 69.8L59.6 71.6L57.4 72.2L55.8 73.4L53.4 79.7L52.1 80.9L50.4 81.5L48.8 81.2L47.8 80.6L45.0 77.4L43.5 76.5L41.4 76.0L35.6 75.8L33.1 74.8L32.0 72.8L32.2 70.3L34.3 65.3L36.5 61.6L39.5 58.9L46.2 55.5L50.7 51.5L54.2 52.0L56.0 54.5L58.1 55.5L65.8 55.8L72.6 57.3L90.5 57.3L92.4 57.0L94.4 56.1L101.0 52.0L105.6 48.0L107.7 47.9L112.5 49.7L119.1 50.9L120.6 50.1L122.3 47.0L123.7 46.5L125.6 47.3L130.1 50.4L132.6 51.3L156.1 51.5L159.8 52.2L162.7 53.8L165.4 56.1L168.1 59.8L171.0 64.7L173.5 70.9L173.6 72.8L172.8 74.3L170.5 75.7L164.1 76.0L161.6 76.7L157.5 80.9L153.7 83.4L152.9 84.7L153.3 86.5L154.3 87.5L156.0 88.1L169.6 88.5L172.3 88.8L174.5 90.3L175.5 92.8L175.2 94.5L171.4 95.1L169.1 96.4L168.0 97.8L167.3 99.6L167.3 100.7L167.8 100.8L174.2 101.1L174.2 102.1L173.3 104.0L172.2 105.3L170.2 106.4L165.3 107.1L162.1 114.6L160.0 117.0L158.1 118.3L155.7 119.2L152.8 119.4L66.9 119.4L62.7 118.9ZM175.0 100.3L175.7 95.3L176.3 94.8L180.0 95.2L181.9 96.5L181.9 98.4L180.3 99.9L176.9 100.7L175.3 100.7L175.0 100.3ZM47.5 50.9L47.3 49.8L48.8 48.1L51.6 46.7L53.0 46.9L52.7 48.6L50.4 51.4L47.5 50.9ZM161.3 106.6L164.8 107.0L165.5 106.5L166.5 102.1L166.2 101.1L162.4 101.4L160.2 102.7L159.5 104.0L159.6 105.0L160.1 105.9L161.3 106.6ZM144.2 68.6L146.3 68.8L147.2 68.1L147.4 67.2L146.1 65.3L144.7 64.6L143.6 64.5L142.5 65.3L142.4 66.6L143.2 67.8L144.2 68.6Z" fill="#fac878" fill-rule="evenodd"/><path d="M63.0 119.0L66.9 119.4L152.8 119.4L155.7 119.2L158.1 118.3L160.0 117.0L162.1 114.6L165.3 107.1L170.2 106.4L172.2 105.3L173.3 104.0L174.2 102.1L174.2 101.1L167.8 100.8L167.3 100.7L167.3 99.6L168.0 97.8L169.1 96.4L171.4 95.1L175.2 94.5L175.5 92.8L174.5 90.3L172.3 88.8L169.6 88.5L156.0 88.1L154.3 87.5L153.3 86.5L152.9 84.7L153.7 83.4L157.5 80.9L161.6 76.7L164.1 76.0L170.5 75.7L172.8 74.3L173.6 72.8L173.5 70.9L171.0 64.7L168.1 59.8L165.4 56.1L162.7 53.8L159.8 52.2L156.1 51.5L132.6 51.3L130.1 50.4L125.6 47.3L123.7 46.5L122.3 47.0L120.6 50.1L119.1 50.9L112.5 49.7L107.7 47.9L105.6 48.0L101.0 52.0L94.4 56.1L92.4 57.0L90.5 57.3L72.6 57.3L65.8 55.8L58.1 55.5L56.0 54.5L54.2 52.0L50.7 51.5L46.2 55.5L39.5 58.9L36.5 61.6L34.3 65.3L32.2 70.3L32.0 72.8L33.1 74.8L35.6 75.8L41.4 76.0L43.5 76.5L45.0 77.4L47.8 80.6L48.8 81.2L50.4 81.5L52.1 80.9L53.4 79.7L55.8 73.4L57.4 72.2L59.6 71.6L68.9 69.8L81.4 69.7L83.5 70.1L85.0 70.8L85.9 71.9L86.6 73.4L86.7 75.9L86.3 78.4L85.3 80.3L83.5 81.5L80.6 82.1L67.1 82.3L65.5 82.8L63.7 84.0L62.6 85.9L62.3 87.8L62.6 88.2L66.8 89.0L68.5 90.3L68.8 92.1L67.6 93.6L65.5 94.4L62.8 94.5L62.3 94.0L62.0 89.0L61.5 88.6L57.7 88.9L56.3 89.6L55.6 90.5L55.4 92.1L56.4 93.4L58.4 94.3L61.7 94.8L62.0 95.9L61.1 99.0L56.7 102.1L55.2 104.0L54.6 106.5L54.8 109.6L56.1 112.7L58.1 115.5L60.5 117.7L63.0 119.0ZM61.9 112.7L60.3 111.5L59.6 109.6L59.9 108.4L61.1 107.4L64.7 107.2L67.9 107.6L69.7 108.5L70.8 110.2L70.3 112.1L68.7 113.0L64.2 113.2L61.9 112.7ZM112.7 112.1L112.1 111.5L111.7 110.2L112.6 108.6L114.2 107.9L116.2 108.6L116.9 110.2L116.3 111.5L114.4 112.5L112.7 112.1ZM161.0 106.5L160.0 105.7L159.5 104.6L160.2 102.7L162.4 101.4L166.2 101.1L166.5 102.1L165.5 106.5L164.8 107.0L161.0 106.5ZM104.8 80.9L100.9 77.2L97.0 74.7L96.1 72.8L97.1 70.9L100.9 68.4L102.3 66.6L102.7 64.1L103.0 56.1L103.9 54.4L105.4 52.7L107.2 52.1L112.6 53.2L115.0 54.2L119.6 56.9L127.3 57.6L129.5 58.5L131.0 59.8L132.6 62.8L134.1 70.3L133.9 72.8L132.6 74.7L131.0 75.3L129.4 75.0L123.7 70.5L121.6 69.9L118.4 69.7L117.9 72.8L116.6 74.7L112.7 77.2L108.7 81.0L106.6 81.5L104.8 80.9ZM144.0 68.4L142.7 67.2L142.4 65.9L143.1 64.7L144.1 64.5L146.1 65.3L147.4 67.2L147.2 68.1L146.3 68.8L145.3 68.9L144.0 68.4ZM159.1 68.4L149.2 61.6L147.8 59.8L148.0 58.3L150.0 57.5L155.2 57.5L157.5 58.1L160.0 59.8L162.4 62.8L163.7 66.6L163.4 67.8L162.4 68.7L160.9 69.0L159.1 68.4ZM58.6 67.2L57.3 66.4L53.5 62.8L53.0 61.7L53.2 61.0L54.9 59.8L57.5 59.3L62.4 59.3L64.4 60.1L65.1 61.0L65.4 62.2L64.2 65.3L62.7 66.6L61.3 67.2L58.6 67.2ZM175.3 100.7L178.6 100.5L180.7 99.6L181.9 98.4L181.9 96.5L180.0 95.2L176.3 94.8L175.6 95.9L175.0 100.3L175.3 100.7ZM114.2 69.2L117.9 69.6L118.1 69.1L117.7 67.2L116.5 65.3L115.4 64.5L113.9 64.2L112.4 64.9L111.7 66.6L112.6 68.3L114.2 69.2ZM47.7 51.0L50.4 51.4L51.0 50.9L53.0 48.1L53.0 46.9L51.6 46.7L48.8 48.1L47.3 49.8L47.3 50.5L47.7 51.0Z" fill="#f5965a" fill-rule="evenodd"/><path d="M62.1 112.8L64.7 113.2L68.7 113.0L70.3 112.1L70.8 110.2L69.7 108.5L67.9 107.6L64.7 107.2L61.1 107.4L59.8 108.5L59.7 110.2L60.8 112.0L62.1 112.8ZM112.9 112.2L114.9 112.4L116.3 111.5L116.8 109.6L116.0 108.4L114.2 107.9L112.2 109.0L111.8 110.9L112.9 112.2ZM104.9 81.0L106.6 81.5L108.7 81.0L112.7 77.2L116.6 74.7L117.9 72.8L118.4 69.7L121.6 69.9L123.7 70.5L129.4 75.0L131.0 75.3L132.6 74.7L133.9 72.8L134.1 70.3L132.6 62.8L131.0 59.8L129.5 58.5L127.3 57.6L119.6 56.9L115.0 54.2L112.6 53.2L107.2 52.1L105.4 52.7L103.9 54.4L103.0 56.1L102.7 64.1L102.3 66.6L100.9 68.4L97.1 70.9L96.1 72.8L97.0 74.7L100.9 77.2L104.9 81.0ZM113.9 69.1L112.2 67.8L111.7 66.6L112.4 64.9L114.4 64.2L115.7 64.7L117.0 65.9L118.1 69.1L117.9 69.6L117.4 69.6L113.9 69.1ZM159.2 68.5L160.9 69.0L162.4 68.7L163.4 67.8L163.7 66.6L162.4 62.8L160.0 59.8L157.5 58.1L155.2 57.5L150.0 57.5L148.0 58.3L147.8 59.8L149.2 61.6L159.2 68.5ZM59.1 67.3L60.6 67.4L62.3 66.8L64.6 64.7L65.3 61.6L64.1 59.8L61.9 59.2L57.0 59.3L54.9 59.8L53.2 61.0L53.0 61.7L53.5 62.8L57.5 66.6L59.1 67.3Z" fill="#f0734b" fill-rule="evenodd"/></g><use href="#casp" fill="none" stroke="#000" stroke-width="0.45"/><use href="#land" fill="none" stroke="#000" stroke-width="0.6" stroke-linejoin="round"/></g><use href="#ol" fill="none" stroke="#333" stroke-width="0.6"/></g><g transform="translate(252.4,127.6)"><g clip-path="url(#co)"><use href="#ol" fill="#fac878"/><path d="M51.1 138.7L154.8 138.7L164.5 135.2L173.0 130.8L183.0 123.6L189.8 117.0L195.3 109.6L198.1 103.4L199.5 97.8L200.2 93.4L200.3 84.7L198.8 75.9L194.2 71.4L191.5 69.9L185.8 70.0L184.2 70.9L183.0 72.8L182.7 75.3L184.2 86.5L183.9 97.8L185.0 99.6L188.5 102.1L189.4 104.0L189.2 105.9L188.4 107.7L186.0 110.9L184.2 112.1L182.1 113.0L175.3 113.4L172.8 114.0L166.0 118.0L163.3 119.1L148.3 119.8L145.8 120.9L140.9 124.2L138.5 125.1L113.6 125.3L111.1 124.3L108.3 120.9L106.1 119.7L89.1 119.5L86.3 119.5L84.4 120.1L83.0 121.3L81.2 124.3L78.9 125.3L35.5 125.3L31.5 124.2L24.5 120.7L18.0 117.9L14.3 115.2L11.6 111.8L15.2 116.4L19.2 120.7L29.3 128.7L34.2 131.9L39.0 134.3L46.0 137.2L51.1 138.7ZM7.1 102.1L6.5 99.0L6.8 97.1L7.8 95.9L9.4 95.3L11.6 95.8L16.0 99.4L19.0 100.6L31.9 100.9L35.5 100.3L36.9 99.4L39.9 95.9L43.3 93.9L44.8 92.4L45.7 89.6L45.2 85.9L43.8 84.0L41.7 82.6L33.6 81.9L26.6 78.1L10.6 77.6L8.1 76.9L6.8 75.9L5.6 81.5L5.1 88.4L5.7 95.9L6.2 98.4L6.6 100.3L7.0 101.5L7.1 102.1L7.3 102.7L7.1 102.1Z" fill="#f5e191" fill-rule="evenodd"/><path d="M33.3 124.8L37.3 125.3L78.5 125.3L80.8 124.6L83.3 120.9L85.4 119.7L102.8 119.5L105.6 119.6L107.4 120.2L111.0 124.2L113.2 125.2L137.0 125.3L140.7 124.3L145.8 120.9L148.8 119.7L161.2 119.4L163.9 118.9L172.4 114.1L174.7 113.5L180.4 113.3L182.7 112.8L185.3 111.5L187.2 109.6L189.0 106.5L189.4 104.0L188.5 102.1L185.0 99.6L183.9 97.8L184.2 86.5L182.7 75.3L183.0 72.8L184.1 71.0L185.3 70.2L189.8 69.7L191.5 69.9L193.4 70.8L198.8 75.9L198.1 73.4L196.3 69.1L193.7 64.7L187.0 56.7L180.8 51.4L173.8 46.5L172.9 45.9L170.5 46.1L170.1 47.0L171.3 48.6L178.2 54.9L181.5 58.5L182.6 60.4L182.7 61.9L182.2 62.8L180.1 64.7L178.2 68.0L175.3 70.9L173.2 74.1L168.4 77.8L167.7 79.7L167.6 84.0L167.0 85.9L165.7 87.3L161.9 89.5L160.6 90.9L159.8 92.8L159.0 97.1L157.0 99.6L152.5 102.1L149.0 105.2L146.9 106.5L144.0 107.1L138.8 107.0L136.1 105.9L133.0 102.3L128.7 99.6L125.4 96.2L124.4 95.6L122.8 95.3L121.1 95.9L119.8 97.1L119.0 99.0L118.1 104.0L117.0 105.5L115.3 106.5L111.6 107.1L91.8 106.9L90.2 106.5L88.7 105.2L88.2 104.0L89.0 102.2L91.6 101.0L97.4 100.8L99.6 100.2L100.6 99.5L101.4 98.4L101.2 96.7L100.1 95.6L98.5 94.9L92.0 94.6L89.6 94.0L87.7 92.8L84.6 89.6L80.3 87.2L78.7 84.7L78.0 79.0L77.3 77.8L76.0 76.9L74.5 76.6L72.8 77.1L68.5 80.9L66.0 81.9L52.5 82.1L49.3 81.2L45.0 77.2L42.5 76.1L35.6 75.8L27.4 74.2L13.1 74.0L11.7 73.7L10.8 73.0L10.2 70.9L11.2 67.2L12.8 65.3L15.3 64.0L18.7 63.5L37.3 63.4L39.4 63.1L41.5 62.2L44.9 59.2L52.5 49.2L53.4 47.3L53.1 46.4L51.7 46.0L32.6 45.9L22.6 53.2L18.6 56.7L15.2 60.4L12.3 64.1L9.6 68.4L7.9 72.2L6.8 75.9L8.1 76.9L10.6 77.6L26.1 78.0L28.1 78.6L33.6 81.9L41.7 82.6L43.8 84.0L45.4 86.5L45.7 89.6L45.0 92.1L43.8 93.5L39.7 96.1L36.7 99.6L34.0 100.7L19.0 100.6L16.4 99.6L12.2 96.2L9.9 95.3L8.3 95.6L7.4 96.3L6.6 97.8L6.5 99.0L7.5 103.4L9.0 107.1L11.6 111.8L14.3 115.2L18.6 118.3L33.3 124.8ZM52.0 112.1L50.6 110.9L50.2 109.6L50.8 108.4L52.4 107.9L54.7 109.0L55.6 110.9L55.2 111.9L54.4 112.5L52.0 112.1ZM74.8 112.1L73.5 110.9L73.5 109.0L74.3 108.2L75.3 107.9L77.1 108.4L78.3 109.6L78.3 111.5L76.6 112.6L74.8 112.1ZM193.9 111.8L194.1 111.5L194.5 110.9L194.9 110.2L195.3 109.6L195.6 109.0L196.0 108.4L196.3 107.7L196.6 107.1L196.9 106.5L197.2 105.9L197.4 105.2L197.6 104.6L197.9 104.0L198.1 103.4L198.3 102.7L198.3 102.7L196.6 107.1L193.9 111.8ZM84.2 56.3L86.0 56.5L87.4 55.5L88.1 53.8L87.5 52.6L86.1 52.2L84.2 53.2L83.4 54.9L84.2 56.3ZM42.3 41.2L69.0 41.1L163.6 41.2L154.8 38.1L50.8 38.1L42.0 41.2L42.3 41.2Z" fill="#fac878" fill-rule="evenodd"/><path d="M52.3 112.2L54.4 112.5L55.2 111.9L55.6 110.9L55.2 109.6L54.2 108.6L51.9 107.9L50.8 108.4L50.2 109.6L50.6 110.9L52.3 112.2ZM75.0 112.2L77.1 112.5L78.0 111.9L78.5 110.9L77.9 109.0L76.3 108.0L74.8 108.0L73.4 109.2L73.5 110.9L75.0 112.2ZM90.8 106.7L93.4 107.0L106.4 107.1L114.8 106.7L116.5 105.9L118.1 104.0L119.0 99.0L119.8 97.1L121.1 95.9L123.3 95.3L125.4 96.2L128.5 99.4L132.8 102.1L135.8 105.6L137.3 106.6L139.3 107.0L143.4 107.1L147.2 106.3L152.2 102.3L156.8 99.8L158.3 98.4L159.2 96.5L159.8 92.8L160.6 90.9L161.9 89.5L165.7 87.3L167.0 85.9L167.6 84.0L167.7 79.7L168.4 77.8L172.9 74.5L175.3 70.9L178.2 68.0L180.1 64.7L182.3 62.7L182.8 61.6L182.3 59.8L179.4 56.1L170.4 47.6L170.3 46.3L172.9 45.9L163.6 41.2L42.0 41.2L32.6 45.9L51.3 46.0L52.9 46.3L53.4 47.0L52.5 49.2L43.2 61.0L40.7 62.7L37.8 63.4L16.5 63.7L13.0 65.2L11.2 67.2L10.5 69.1L10.2 71.6L10.8 73.0L12.1 73.8L27.4 74.2L35.6 75.8L42.5 76.1L45.0 77.2L49.3 81.2L51.4 82.0L66.0 81.9L68.5 80.9L72.8 77.1L74.5 76.6L76.0 76.9L77.3 77.8L78.0 79.0L78.7 84.7L80.3 87.2L84.6 89.6L87.7 92.8L89.6 94.0L92.0 94.6L98.5 94.9L100.1 95.6L101.2 96.7L101.4 98.4L100.6 99.5L99.6 100.3L97.4 100.8L91.6 101.0L89.1 102.1L88.3 103.4L88.3 104.6L89.3 105.9L90.8 106.7ZM113.8 75.3L111.9 74.1L108.8 70.9L104.7 68.4L103.3 66.6L102.8 64.1L103.1 61.0L104.0 59.2L105.6 57.9L109.8 57.3L114.2 57.9L116.2 59.2L119.1 62.0L120.7 62.9L122.8 63.4L128.3 63.6L130.5 64.3L132.5 65.9L133.5 67.8L134.1 70.3L133.9 72.8L133.0 74.3L131.5 75.4L128.9 75.9L118.8 75.9L115.6 75.8L113.8 75.3ZM164.4 62.2L162.8 61.0L162.1 59.8L162.1 58.8L162.7 58.2L164.2 58.2L165.5 58.8L166.8 59.8L167.6 61.0L167.5 62.0L166.8 62.6L164.4 62.2ZM84.0 56.1L83.4 54.9L84.2 53.2L86.1 52.2L87.5 52.6L88.1 53.8L87.4 55.5L85.5 56.6L84.0 56.1Z" fill="#f5965a" fill-rule="evenodd"/><path d="M114.0 75.4L116.6 75.9L126.2 75.9L129.4 75.8L131.5 75.4L133.0 74.3L133.9 72.8L134.1 70.3L133.5 67.8L132.5 65.9L130.5 64.3L128.3 63.6L122.8 63.4L120.7 62.9L119.1 62.0L116.2 59.2L114.2 57.9L109.8 57.3L105.6 57.9L104.0 59.2L103.1 61.0L102.8 64.1L103.3 66.6L104.7 68.4L108.8 70.9L111.9 74.1L114.0 75.4ZM164.7 62.4L165.9 62.7L167.2 62.4L167.6 61.6L167.3 60.4L165.1 58.5L162.7 58.2L162.0 59.2L162.4 60.4L164.7 62.4Z" fill="#f0734b" fill-rule="evenodd"/><g clip-path="url(#cl)"><use href="#land" fill="#f5965a"/><path d="M51.1 138.7L154.8 138.7L160.5 136.8L167.6 133.8L177.1 128.1L28.4 128.1L34.2 131.9L39.0 134.3L46.0 137.2L51.1 138.7Z" fill="#d7e4c3" fill-rule="evenodd"/><path d="M28.9 128.1L177.1 128.1L179.8 126.1L25.8 126.1L28.9 128.1Z" fill="#f0e8a5" fill-rule="evenodd"/><path d="M26.2 126.1L179.8 126.1L181.8 124.5L23.7 124.5L26.2 126.1ZM82.6 49.8L93.1 49.7L97.8 49.2L99.4 48.6L100.4 47.6L100.9 46.0L101.6 38.1L86.6 38.1L83.2 42.0L80.7 46.5L80.5 48.6L81.0 49.3L82.6 49.8Z" fill="#f5e191" fill-rule="evenodd"/><path d="M24.1 124.5L181.8 124.5L184.3 122.5L21.3 122.5L23.7 124.5L24.1 124.5ZM79.8 52.7L92.1 52.9L98.4 51.6L100.6 50.7L102.5 48.6L103.6 44.9L104.1 42.0L103.9 38.1L101.6 38.1L100.7 46.5L100.0 48.1L99.0 48.9L92.7 49.8L81.8 49.6L80.5 48.6L80.4 47.6L80.9 46.0L83.5 41.6L86.6 38.1L84.3 38.1L80.1 42.5L77.2 47.6L76.9 49.2L77.5 50.8L78.5 52.0L79.8 52.7Z" fill="#fac878" fill-rule="evenodd"/><path d="M21.7 122.5L184.3 122.5L188.7 118.3L193.3 112.7L196.3 107.7L198.1 103.4L199.9 95.9L200.5 88.4L200.0 81.5L198.6 75.3L196.6 69.7L193.3 64.1L188.7 58.5L183.7 53.8L176.2 48.1L169.5 43.9L161.5 40.3L154.8 38.1L103.9 38.1L103.9 43.9L102.7 48.1L101.5 50.0L98.4 51.6L92.6 52.8L89.4 53.0L80.2 52.8L78.3 51.9L77.2 50.3L77.0 48.1L78.1 45.5L80.8 41.6L84.3 38.1L50.1 38.3L43.1 40.7L36.0 43.9L30.1 47.6L23.3 52.6L18.0 57.3L13.2 62.8L9.9 67.8L7.7 72.8L5.8 80.3L5.1 88.4L5.6 95.3L7.1 102.1L9.0 107.1L12.3 112.7L17.4 118.9L21.3 122.5L21.7 122.5ZM62.9 118.9L60.7 117.6L59.0 115.8L56.5 109.6L55.0 102.7L54.2 95.9L53.8 87.2L52.9 84.4L51.4 82.9L47.8 80.7L44.0 76.7L42.0 76.1L34.6 75.6L33.0 74.7L32.2 73.4L32.2 70.3L34.9 64.1L37.0 61.0L40.1 58.5L45.4 56.1L51.7 52.5L55.9 51.5L71.9 51.6L73.3 52.3L75.9 55.9L77.9 57.1L80.6 57.4L91.0 57.3L97.3 54.4L102.8 52.4L104.3 50.9L106.0 47.0L107.1 46.1L108.6 46.0L152.1 46.1L155.2 47.0L163.4 50.9L172.4 52.0L175.8 53.8L177.3 55.4L177.4 56.5L176.2 58.4L176.1 59.8L178.7 65.3L178.9 67.8L173.4 74.3L169.9 77.2L168.9 79.0L169.8 80.9L173.7 83.3L175.1 84.7L175.8 86.5L176.2 90.3L176.8 92.1L178.0 93.5L181.7 95.9L182.9 97.8L182.6 101.5L180.9 107.1L179.0 110.2L176.7 112.1L173.4 113.2L167.8 113.4L165.5 113.9L158.1 118.4L154.2 119.3L68.8 119.4L62.9 118.9ZM66.0 81.7L70.4 82.1L74.7 81.7L76.8 80.3L77.2 78.4L76.0 76.9L74.0 76.1L69.2 76.0L66.5 76.4L64.8 77.3L63.7 79.0L64.5 80.8L66.0 81.7Z" fill="#f5965a" fill-rule="evenodd"/><path d="M63.5 119.0L69.8 119.4L154.2 119.3L158.1 118.4L165.5 113.9L167.8 113.4L173.4 113.2L176.7 112.1L179.0 110.2L180.9 107.1L182.6 101.5L182.9 97.8L181.7 95.9L178.0 93.5L176.8 92.1L176.2 90.3L175.8 86.5L175.1 84.7L173.7 83.3L169.8 80.9L168.9 79.0L169.9 77.2L173.4 74.3L178.9 67.8L178.7 65.3L176.1 59.8L176.2 58.4L177.4 56.5L177.3 55.4L175.8 53.8L172.4 52.0L163.4 50.9L155.2 47.0L152.1 46.1L108.6 46.0L107.1 46.1L106.0 47.0L104.3 50.9L102.8 52.4L97.3 54.4L91.0 57.3L80.6 57.4L77.9 57.1L75.9 55.9L73.3 52.3L71.9 51.6L55.9 51.5L51.7 52.5L45.4 56.1L40.1 58.5L37.0 61.0L34.9 64.1L32.2 70.3L32.2 73.4L33.0 74.7L34.6 75.6L42.0 76.1L44.0 76.7L47.8 80.7L51.4 82.9L52.9 84.4L53.8 87.2L54.2 95.9L55.0 102.7L56.7 110.2L58.0 114.0L59.5 116.4L61.1 117.9L63.5 119.0ZM66.9 112.1L65.4 110.9L64.1 108.4L62.8 100.3L62.9 98.4L63.5 96.9L64.5 95.9L66.1 95.3L68.8 96.2L72.3 99.4L76.7 102.1L77.8 104.0L77.0 105.9L73.5 108.4L70.5 112.1L69.1 112.7L66.9 112.1ZM160.9 106.5L159.6 105.2L159.5 104.0L160.7 102.2L162.4 101.3L165.2 100.9L169.9 101.1L171.9 101.8L172.8 102.9L172.8 104.0L172.1 105.2L169.6 106.6L164.3 107.0L160.9 106.5ZM113.0 105.9L112.4 105.2L112.0 104.0L112.9 102.3L115.0 101.3L118.2 101.3L118.1 103.4L117.0 105.3L114.8 106.3L113.0 105.9ZM119.2 100.3L119.7 97.8L121.3 95.9L123.3 95.4L125.3 96.5L125.5 98.4L124.2 99.9L121.4 100.7L119.8 100.7L119.2 100.3ZM65.6 81.5L64.1 80.3L63.9 78.4L64.9 77.2L67.0 76.2L70.8 76.0L74.5 76.2L76.4 77.2L77.2 78.4L76.8 80.3L75.8 81.2L74.1 81.9L68.7 82.1L65.6 81.5ZM97.8 81.5L95.8 80.0L94.9 77.8L95.3 63.5L95.7 61.6L96.8 59.8L98.5 58.3L100.4 57.6L113.2 57.6L115.4 58.5L119.6 62.3L122.2 62.7L123.5 61.8L124.2 60.4L123.6 54.9L123.8 53.5L124.8 52.3L126.0 52.1L128.1 52.9L132.5 56.3L135.2 57.2L160.3 57.3L163.3 57.7L165.5 58.5L168.0 60.4L169.9 62.8L170.9 65.3L170.8 67.2L170.0 68.4L164.4 74.1L162.9 75.0L160.6 74.7L155.1 70.5L152.9 69.9L150.2 69.7L149.7 69.7L149.7 72.2L149.0 74.1L147.5 75.1L145.9 75.1L143.6 73.4L141.9 69.7L139.3 69.8L136.2 70.9L132.8 74.7L129.0 77.0L125.4 80.7L123.3 81.8L120.1 82.2L102.2 82.2L97.8 81.5ZM58.2 68.4L57.4 67.2L57.3 65.3L59.0 61.0L61.7 58.5L63.4 58.0L64.7 58.3L65.5 59.2L65.8 61.0L65.0 64.1L63.9 66.6L62.8 67.8L61.3 68.7L59.7 69.0L58.2 68.4ZM144.5 69.7L149.2 69.7L149.3 69.1L148.5 67.2L147.0 65.3L145.7 64.5L144.0 64.2L142.3 65.3L141.8 67.8L142.4 69.7L144.5 69.7Z" fill="#f0734b" fill-rule="evenodd"/><path d="M66.9 112.1L69.1 112.7L70.5 112.1L73.5 108.4L77.0 105.9L77.8 104.0L76.7 102.1L72.3 99.4L68.8 96.2L66.1 95.3L64.5 95.9L63.5 96.9L62.9 98.4L62.8 100.3L64.1 108.4L65.4 110.9L66.9 112.1ZM161.3 106.7L166.4 107.0L170.1 106.5L172.6 104.6L172.7 102.7L171.4 101.5L169.9 101.1L165.2 100.9L162.4 101.3L160.7 102.2L159.5 104.0L160.0 105.8L161.3 106.7ZM113.3 106.0L115.3 106.2L117.0 105.3L118.1 103.4L118.2 101.3L115.0 101.3L112.9 102.3L112.0 104.0L112.4 105.2L113.3 106.0ZM119.3 100.5L122.0 100.6L124.5 99.6L125.5 98.4L125.3 96.5L123.3 95.4L121.1 96.0L119.7 97.8L119.2 99.6L119.3 100.5ZM97.9 81.6L102.2 82.2L120.1 82.2L123.3 81.8L125.4 80.7L129.0 77.0L132.8 74.7L136.2 70.9L139.3 69.8L141.9 69.7L143.6 73.4L145.9 75.1L147.5 75.1L149.0 74.1L149.7 72.2L149.7 69.7L150.2 69.7L152.9 69.9L155.1 70.5L160.6 74.7L162.9 75.0L164.4 74.1L170.0 68.4L170.8 67.2L170.9 65.3L169.9 62.8L168.0 60.4L165.5 58.5L163.3 57.7L160.3 57.3L135.2 57.2L132.5 56.3L128.1 52.9L126.0 52.1L124.8 52.3L123.8 53.5L123.6 54.9L124.2 60.4L123.5 61.8L122.2 62.7L119.6 62.3L115.4 58.5L113.2 57.6L100.4 57.6L98.5 58.3L96.8 59.8L95.7 61.6L95.3 63.5L94.9 77.8L96.0 80.3L97.9 81.6ZM144.5 69.7L142.4 69.7L141.8 67.8L142.3 65.3L144.0 64.2L145.7 64.5L147.0 65.3L148.5 67.2L149.3 69.1L149.2 69.7L144.5 69.7ZM58.2 68.5L59.7 69.0L61.3 68.7L62.8 67.8L63.9 66.6L65.0 64.1L65.8 61.0L65.5 59.2L64.7 58.3L63.4 58.0L61.7 58.5L59.0 61.0L57.3 65.3L57.4 67.2L58.2 68.5Z" fill="#d5464b" fill-rule="evenodd"/><ellipse cx="111.6" cy="76.4" rx="1.8" ry="1.3" fill="#a8184a"/><ellipse cx="120" cy="72" rx="1.5" ry="1.0" fill="#a8184a"/><ellipse cx="147" cy="67.2" rx="3.2" ry="1.6" fill="#f5965a" transform="rotate(-10 147 67.2)"/></g><use href="#casp" fill="none" stroke="#000" stroke-width="0.45"/><use href="#land" fill="none" stroke="#000" stroke-width="0.6" stroke-linejoin="round"/></g><use href="#ol" fill="none" stroke="#333" stroke-width="0.6"/></g><text x="159.6" y="10.8" font-size="8.2" font-family="Liberation Sans, sans-serif" fill="#000" textLength="138.4" lengthAdjust="spacingAndGlyphs">Insoluble modes: mass concentration</text><text x="9.6" y="45.9" font-size="8.3" font-weight="bold" font-family="Liberation Sans, sans-serif" fill="#000" stroke="#000" stroke-width="0.15">a.</text><text x="68.2" y="35.7" font-size="6.9" font-family="Liberation Sans, sans-serif" fill="#000" textLength="82.6" lengthAdjust="spacingAndGlyphs">average: 7.9×10<tspan dy="-2.7" font-size="4.9">−7</tspan><tspan dy="2.7"> μg</tspan> m<tspan dy="-2.7" font-size="4.9">−3</tspan></text><rect x="208.60" y="132.72" width="5.9" height="8.93" fill="#463791"/><rect x="208.60" y="123.85" width="5.9" height="8.93" fill="#587dd2"/><rect x="208.60" y="114.97" width="5.9" height="8.93" fill="#73b4f5"/><rect x="208.60" y="106.10" width="5.9" height="8.93" fill="#96c8e8"/><rect x="208.60" y="97.22" width="5.9" height="8.93" fill="#d7e4c3"/><rect x="208.60" y="88.35" width="5.9" height="8.93" fill="#f0e8a5"/><rect x="208.60" y="79.47" width="5.9" height="8.93" fill="#f5e191"/><rect x="208.60" y="70.60" width="5.9" height="8.93" fill="#fac878"/><rect x="208.60" y="61.73" width="5.9" height="8.93" fill="#f5965a"/><rect x="208.60" y="52.85" width="5.9" height="8.93" fill="#f0734b"/><rect x="208.60" y="43.98" width="5.9" height="8.93" fill="#d5464b"/><rect x="208.60" y="35.10" width="5.9" height="8.93" fill="#a8184a"/><rect x="208.60" y="35.10" width="5.9" height="106.5" fill="none" stroke="#999" stroke-width="0.5"/><line x1="214.50" y1="35.10" x2="216.20" y2="35.10" stroke="#000" stroke-width="0.5"/><text x="217.6" y="37.60" font-size="6.9" font-family="Liberation Sans, sans-serif" fill="#000">10<tspan dx="0.4" dy="-1.8" font-size="4.8">2</tspan></text><line x1="214.50" y1="52.85" x2="216.20" y2="52.85" stroke="#000" stroke-width="0.5"/><text x="217.6" y="55.35" font-size="6.9" font-family="Liberation Sans, sans-serif" fill="#000">10<tspan dx="0.4" dy="-1.8" font-size="4.8">0</tspan></text><line x1="214.50" y1="70.60" x2="216.20" y2="70.60" stroke="#000" stroke-width="0.5"/><text x="217.6" y="73.10" font-size="6.9" font-family="Liberation Sans, sans-serif" fill="#000">10<tspan dx="0.4" dy="-1.8" font-size="4.8">−2</tspan></text><line x1="214.50" y1="88.35" x2="216.20" y2="88.35" stroke="#000" stroke-width="0.5"/><text x="217.6" y="90.85" font-size="6.9" font-family="Liberation Sans, sans-serif" fill="#000">10<tspan dx="0.4" dy="-1.8" font-size="4.8">−4</tspan></text><line x1="214.50" y1="106.10" x2="216.20" y2="106.10" stroke="#000" stroke-width="0.5"/><text x="217.6" y="108.60" font-size="6.9" font-family="Liberation Sans, sans-serif" fill="#000">10<tspan dx="0.4" dy="-1.8" font-size="4.8">−6</tspan></text><line x1="214.50" y1="123.85" x2="216.20" y2="123.85" stroke="#000" stroke-width="0.5"/><text x="217.6" y="126.35" font-size="6.9" font-family="Liberation Sans, sans-serif" fill="#000">10<tspan dx="0.4" dy="-1.8" font-size="4.8">−8</tspan></text><line x1="214.50" y1="141.60" x2="216.20" y2="141.60" stroke="#000" stroke-width="0.5"/><text x="217.6" y="144.10" font-size="6.9" font-family="Liberation Sans, sans-serif" fill="#000">10<tspan dx="0.4" dy="-1.8" font-size="4.8">−10</tspan></text><text transform="translate(241.2,138.9) rotate(-90)" font-size="7.6" font-family="Liberation Sans, sans-serif" fill="#000" textLength="101" lengthAdjust="spacingAndGlyphs">Microplastic mass (μg m<tspan dy="-2.8" font-size="5.3">−3</tspan><tspan dy="2.8">)</tspan></text><text x="262.0" y="45.9" font-size="8.3" font-weight="bold" font-family="Liberation Sans, sans-serif" fill="#000" stroke="#000" stroke-width="0.15">b.</text><text x="320.6" y="35.7" font-size="6.9" font-family="Liberation Sans, sans-serif" fill="#000" textLength="82.6" lengthAdjust="spacingAndGlyphs">average: 1.3×10<tspan dy="-2.7" font-size="4.9">−4</tspan><tspan dy="2.7"> μg</tspan> m<tspan dy="-2.7" font-size="4.9">−3</tspan></text><rect x="460.60" y="132.72" width="5.9" height="8.93" fill="#463791"/><rect x="460.60" y="123.85" width="5.9" height="8.93" fill="#587dd2"/><rect x="460.60" y="114.97" width="5.9" height="8.93" fill="#73b4f5"/><rect x="460.60" y="106.10" width="5.9" height="8.93" fill="#96c8e8"/><rect x="460.60" y="97.22" width="5.9" height="8.93" fill="#d7e4c3"/><rect x="460.60" y="88.35" width="5.9" height="8.93" fill="#f0e8a5"/><rect x="460.60" y="79.47" width="5.9" height="8.93" fill="#f5e191"/><rect x="460.60" y="70.60" width="5.9" height="8.93" fill="#fac878"/><rect x="460.60" y="61.73" width="5.9" height="8.93" fill="#f5965a"/><rect x="460.60" y="52.85" width="5.9" height="8.93" fill="#f0734b"/><rect x="460.60" y="43.98" width="5.9" height="8.93" fill="#d5464b"/><rect x="460.60" y="35.10" width="5.9" height="8.93" fill="#a8184a"/><rect x="460.60" y="35.10" width="5.9" height="106.5" fill="none" stroke="#999" stroke-width="0.5"/><line x1="466.50" y1="35.10" x2="468.20" y2="35.10" stroke="#000" stroke-width="0.5"/><text x="469.6" y="37.60" font-size="6.9" font-family="Liberation Sans, sans-serif" fill="#000">10<tspan dx="0.4" dy="-1.8" font-size="4.8">2</tspan></text><line x1="466.50" y1="52.85" x2="468.20" y2="52.85" stroke="#000" stroke-width="0.5"/><text x="469.6" y="55.35" font-size="6.9" font-family="Liberation Sans, sans-serif" fill="#000">10<tspan dx="0.4" dy="-1.8" font-size="4.8">0</tspan></text><line x1="466.50" y1="70.60" x2="468.20" y2="70.60" stroke="#000" stroke-width="0.5"/><text x="469.6" y="73.10" font-size="6.9" font-family="Liberation Sans, sans-serif" fill="#000">10<tspan dx="0.4" dy="-1.8" font-size="4.8">−2</tspan></text><line x1="466.50" y1="88.35" x2="468.20" y2="88.35" stroke="#000" stroke-width="0.5"/><text x="469.6" y="90.85" font-size="6.9" font-family="Liberation Sans, sans-serif" fill="#000">10<tspan dx="0.4" dy="-1.8" font-size="4.8">−4</tspan></text><line x1="466.50" y1="106.10" x2="468.20" y2="106.10" stroke="#000" stroke-width="0.5"/><text x="469.6" y="108.60" font-size="6.9" font-family="Liberation Sans, sans-serif" fill="#000">10<tspan dx="0.4" dy="-1.8" font-size="4.8">−6</tspan></text><line x1="466.50" y1="123.85" x2="468.20" y2="123.85" stroke="#000" stroke-width="0.5"/><text x="469.6" y="126.35" font-size="6.9" font-family="Liberation Sans, sans-serif" fill="#000">10<tspan dx="0.4" dy="-1.8" font-size="4.8">−8</tspan></text><line x1="466.50" y1="141.60" x2="468.20" y2="141.60" stroke="#000" stroke-width="0.5"/><text x="469.6" y="144.10" font-size="6.9" font-family="Liberation Sans, sans-serif" fill="#000">10<tspan dx="0.4" dy="-1.8" font-size="4.8">−10</tspan></text><text transform="translate(493.2,138.9) rotate(-90)" font-size="7.6" font-family="Liberation Sans, sans-serif" fill="#000" textLength="101" lengthAdjust="spacingAndGlyphs">Microplastic mass (μg m<tspan dy="-2.8" font-size="5.3">−3</tspan><tspan dy="2.8">)</tspan></text><text x="9.6" y="173.5" font-size="8.3" font-weight="bold" font-family="Liberation Sans, sans-serif" fill="#000" stroke="#000" stroke-width="0.15">c.</text><text x="68.2" y="163.3" font-size="6.9" font-family="Liberation Sans, sans-serif" fill="#000" textLength="82.6" lengthAdjust="spacingAndGlyphs">average: 6.0×10<tspan dy="-2.7" font-size="4.9">−3</tspan><tspan dy="2.7"> μg</tspan> m<tspan dy="-2.7" font-size="4.9">−3</tspan></text><rect x="208.60" y="260.73" width="5.9" height="8.93" fill="#463791"/><rect x="208.60" y="251.85" width="5.9" height="8.93" fill="#587dd2"/><rect x="208.60" y="242.97" width="5.9" height="8.93" fill="#73b4f5"/><rect x="208.60" y="234.10" width="5.9" height="8.93" fill="#96c8e8"/><rect x="208.60" y="225.22" width="5.9" height="8.93" fill="#d7e4c3"/><rect x="208.60" y="216.35" width="5.9" height="8.93" fill="#f0e8a5"/><rect x="208.60" y="207.47" width="5.9" height="8.93" fill="#f5e191"/><rect x="208.60" y="198.60" width="5.9" height="8.93" fill="#fac878"/><rect x="208.60" y="189.72" width="5.9" height="8.93" fill="#f5965a"/><rect x="208.60" y="180.85" width="5.9" height="8.93" fill="#f0734b"/><rect x="208.60" y="171.97" width="5.9" height="8.93" fill="#d5464b"/><rect x="208.60" y="163.10" width="5.9" height="8.93" fill="#a8184a"/><rect x="208.60" y="163.10" width="5.9" height="106.5" fill="none" stroke="#999" stroke-width="0.5"/><line x1="214.50" y1="163.10" x2="216.20" y2="163.10" stroke="#000" stroke-width="0.5"/><text x="217.6" y="165.60" font-size="6.9" font-family="Liberation Sans, sans-serif" fill="#000">10<tspan dx="0.4" dy="-1.8" font-size="4.8">2</tspan></text><line x1="214.50" y1="180.85" x2="216.20" y2="180.85" stroke="#000" stroke-width="0.5"/><text x="217.6" y="183.35" font-size="6.9" font-family="Liberation Sans, sans-serif" fill="#000">10<tspan dx="0.4" dy="-1.8" font-size="4.8">0</tspan></text><line x1="214.50" y1="198.60" x2="216.20" y2="198.60" stroke="#000" stroke-width="0.5"/><text x="217.6" y="201.10" font-size="6.9" font-family="Liberation Sans, sans-serif" fill="#000">10<tspan dx="0.4" dy="-1.8" font-size="4.8">−2</tspan></text><line x1="214.50" y1="216.35" x2="216.20" y2="216.35" stroke="#000" stroke-width="0.5"/><text x="217.6" y="218.85" font-size="6.9" font-family="Liberation Sans, sans-serif" fill="#000">10<tspan dx="0.4" dy="-1.8" font-size="4.8">−4</tspan></text><line x1="214.50" y1="234.10" x2="216.20" y2="234.10" stroke="#000" stroke-width="0.5"/><text x="217.6" y="236.60" font-size="6.9" font-family="Liberation Sans, sans-serif" fill="#000">10<tspan dx="0.4" dy="-1.8" font-size="4.8">−6</tspan></text><line x1="214.50" y1="251.85" x2="216.20" y2="251.85" stroke="#000" stroke-width="0.5"/><text x="217.6" y="254.35" font-size="6.9" font-family="Liberation Sans, sans-serif" fill="#000">10<tspan dx="0.4" dy="-1.8" font-size="4.8">−8</tspan></text><line x1="214.50" y1="269.60" x2="216.20" y2="269.60" stroke="#000" stroke-width="0.5"/><text x="217.6" y="272.10" font-size="6.9" font-family="Liberation Sans, sans-serif" fill="#000">10<tspan dx="0.4" dy="-1.8" font-size="4.8">−10</tspan></text><text transform="translate(241.2,266.5) rotate(-90)" font-size="7.6" font-family="Liberation Sans, sans-serif" fill="#000" textLength="101" lengthAdjust="spacingAndGlyphs">Microplastic mass (μg m<tspan dy="-2.8" font-size="5.3">−3</tspan><tspan dy="2.8">)</tspan></text><text x="262.0" y="173.5" font-size="8.3" font-weight="bold" font-family="Liberation Sans, sans-serif" fill="#000" stroke="#000" stroke-width="0.15">d.</text><text x="320.6" y="163.3" font-size="6.9" font-family="Liberation Sans, sans-serif" fill="#000" textLength="82.6" lengthAdjust="spacingAndGlyphs">average: 1.6×10<tspan dy="-2.7" font-size="4.9">−1</tspan><tspan dy="2.7"> μg</tspan> m<tspan dy="-2.7" font-size="4.9">−3</tspan></text><rect x="460.60" y="260.73" width="5.9" height="8.93" fill="#463791"/><rect x="460.60" y="251.85" width="5.9" height="8.93" fill="#587dd2"/><rect x="460.60" y="242.97" width="5.9" height="8.93" fill="#73b4f5"/><rect x="460.60" y="234.10" width="5.9" height="8.93" fill="#96c8e8"/><rect x="460.60" y="225.22" width="5.9" height="8.93" fill="#d7e4c3"/><rect x="460.60" y="216.35" width="5.9" height="8.93" fill="#f0e8a5"/><rect x="460.60" y="207.47" width="5.9" height="8.93" fill="#f5e191"/><rect x="460.60" y="198.60" width="5.9" height="8.93" fill="#fac878"/><rect x="460.60" y="189.72" width="5.9" height="8.93" fill="#f5965a"/><rect x="460.60" y="180.85" width="5.9" height="8.93" fill="#f0734b"/><rect x="460.60" y="171.97" width="5.9" height="8.93" fill="#d5464b"/><rect x="460.60" y="163.10" width="5.9" height="8.93" fill="#a8184a"/><rect x="460.60" y="163.10" width="5.9" height="106.5" fill="none" stroke="#999" stroke-width="0.5"/><line x1="466.50" y1="163.10" x2="468.20" y2="163.10" stroke="#000" stroke-width="0.5"/><text x="469.6" y="165.60" font-size="6.9" font-family="Liberation Sans, sans-serif" fill="#000">10<tspan dx="0.4" dy="-1.8" font-size="4.8">2</tspan></text><line x1="466.50" y1="180.85" x2="468.20" y2="180.85" stroke="#000" stroke-width="0.5"/><text x="469.6" y="183.35" font-size="6.9" font-family="Liberation Sans, sans-serif" fill="#000">10<tspan dx="0.4" dy="-1.8" font-size="4.8">0</tspan></text><line x1="466.50" y1="198.60" x2="468.20" y2="198.60" stroke="#000" stroke-width="0.5"/><text x="469.6" y="201.10" font-size="6.9" font-family="Liberation Sans, sans-serif" fill="#000">10<tspan dx="0.4" dy="-1.8" font-size="4.8">−2</tspan></text><line x1="466.50" y1="216.35" x2="468.20" y2="216.35" stroke="#000" stroke-width="0.5"/><text x="469.6" y="218.85" font-size="6.9" font-family="Liberation Sans, sans-serif" fill="#000">10<tspan dx="0.4" dy="-1.8" font-size="4.8">−4</tspan></text><line x1="466.50" y1="234.10" x2="468.20" y2="234.10" stroke="#000" stroke-width="0.5"/><text x="469.6" y="236.60" font-size="6.9" font-family="Liberation Sans, sans-serif" fill="#000">10<tspan dx="0.4" dy="-1.8" font-size="4.8">−6</tspan></text><line x1="466.50" y1="251.85" x2="468.20" y2="251.85" stroke="#000" stroke-width="0.5"/><text x="469.6" y="254.35" font-size="6.9" font-family="Liberation Sans, sans-serif" fill="#000">10<tspan dx="0.4" dy="-1.8" font-size="4.8">−8</tspan></text><line x1="466.50" y1="269.60" x2="468.20" y2="269.60" stroke="#000" stroke-width="0.5"/><text x="469.6" y="272.10" font-size="6.9" font-family="Liberation Sans, sans-serif" fill="#000">10<tspan dx="0.4" dy="-1.8" font-size="4.8">−10</tspan></text><text transform="translate(493.2,266.5) rotate(-90)" font-size="7.6" font-family="Liberation Sans, sans-serif" fill="#000" textLength="101" lengthAdjust="spacingAndGlyphs">Microplastic mass (μg m<tspan dy="-2.8" font-size="5.3">−3</tspan><tspan dy="2.8">)</tspan></text></svg></body></html>
